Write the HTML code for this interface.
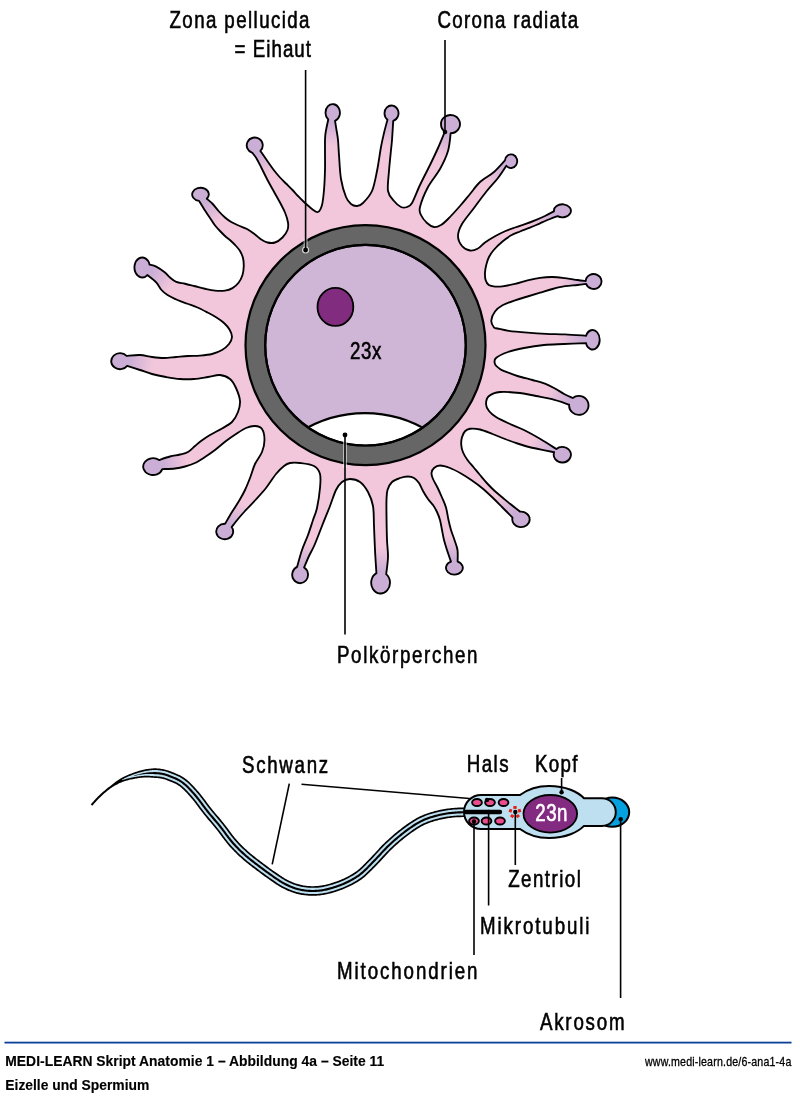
<!DOCTYPE html>
<html><head><meta charset="utf-8"><style>
html,body{margin:0;padding:0;background:#fff;}
body{width:800px;height:1096px;overflow:hidden;}
svg{display:block;will-change:transform;}
text{font-family:"Liberation Sans",sans-serif;}
</style></head><body>
<svg width="800" height="1096" viewBox="0 0 800 1096">
<defs>
<radialGradient id="g0" gradientUnits="userSpaceOnUse" cx="332.7" cy="112.7" r="33.6"><stop offset="0.29" stop-color="#cbaed6" stop-opacity="1"/><stop offset="1" stop-color="#cbaed6" stop-opacity="0"/></radialGradient>
<radialGradient id="g1" gradientUnits="userSpaceOnUse" cx="391.5" cy="113.3" r="32.8"><stop offset="0.27" stop-color="#cbaed6" stop-opacity="1"/><stop offset="1" stop-color="#cbaed6" stop-opacity="0"/></radialGradient>
<radialGradient id="g2" gradientUnits="userSpaceOnUse" cx="450.5" cy="124.1" r="34.5"><stop offset="0.3" stop-color="#cbaed6" stop-opacity="1"/><stop offset="1" stop-color="#cbaed6" stop-opacity="0"/></radialGradient>
<radialGradient id="g3" gradientUnits="userSpaceOnUse" cx="511" cy="161.2" r="31.85"><stop offset="0.25" stop-color="#cbaed6" stop-opacity="1"/><stop offset="1" stop-color="#cbaed6" stop-opacity="0"/></radialGradient>
<radialGradient id="g4" gradientUnits="userSpaceOnUse" cx="562.4" cy="210.8" r="33.5"><stop offset="0.28" stop-color="#cbaed6" stop-opacity="1"/><stop offset="1" stop-color="#cbaed6" stop-opacity="0"/></radialGradient>
<radialGradient id="g5" gradientUnits="userSpaceOnUse" cx="593.6" cy="281.5" r="32.9"><stop offset="0.27" stop-color="#cbaed6" stop-opacity="1"/><stop offset="1" stop-color="#cbaed6" stop-opacity="0"/></radialGradient>
<radialGradient id="g6" gradientUnits="userSpaceOnUse" cx="592.6" cy="339.75" r="34.75"><stop offset="0.31" stop-color="#cbaed6" stop-opacity="1"/><stop offset="1" stop-color="#cbaed6" stop-opacity="0"/></radialGradient>
<radialGradient id="g7" gradientUnits="userSpaceOnUse" cx="578.8" cy="405.4" r="34.7"><stop offset="0.31" stop-color="#cbaed6" stop-opacity="1"/><stop offset="1" stop-color="#cbaed6" stop-opacity="0"/></radialGradient>
<radialGradient id="g8" gradientUnits="userSpaceOnUse" cx="562.3" cy="454.7" r="33.6"><stop offset="0.29" stop-color="#cbaed6" stop-opacity="1"/><stop offset="1" stop-color="#cbaed6" stop-opacity="0"/></radialGradient>
<radialGradient id="g9" gradientUnits="userSpaceOnUse" cx="521" cy="519.4" r="33.7"><stop offset="0.29" stop-color="#cbaed6" stop-opacity="1"/><stop offset="1" stop-color="#cbaed6" stop-opacity="0"/></radialGradient>
<radialGradient id="g10" gradientUnits="userSpaceOnUse" cx="454.4" cy="567.8" r="33.4"><stop offset="0.28" stop-color="#cbaed6" stop-opacity="1"/><stop offset="1" stop-color="#cbaed6" stop-opacity="0"/></radialGradient>
<radialGradient id="g11" gradientUnits="userSpaceOnUse" cx="380.6" cy="582.75" r="35.75"><stop offset="0.33" stop-color="#cbaed6" stop-opacity="1"/><stop offset="1" stop-color="#cbaed6" stop-opacity="0"/></radialGradient>
<radialGradient id="g12" gradientUnits="userSpaceOnUse" cx="300.1" cy="574.75" r="33.45"><stop offset="0.28" stop-color="#cbaed6" stop-opacity="1"/><stop offset="1" stop-color="#cbaed6" stop-opacity="0"/></radialGradient>
<radialGradient id="g13" gradientUnits="userSpaceOnUse" cx="224.7" cy="531.5" r="33.45"><stop offset="0.28" stop-color="#cbaed6" stop-opacity="1"/><stop offset="1" stop-color="#cbaed6" stop-opacity="0"/></radialGradient>
<radialGradient id="g14" gradientUnits="userSpaceOnUse" cx="153" cy="466.6" r="34.8"><stop offset="0.31" stop-color="#cbaed6" stop-opacity="1"/><stop offset="1" stop-color="#cbaed6" stop-opacity="0"/></radialGradient>
<radialGradient id="g15" gradientUnits="userSpaceOnUse" cx="120" cy="361.2" r="33.8"><stop offset="0.29" stop-color="#cbaed6" stop-opacity="1"/><stop offset="1" stop-color="#cbaed6" stop-opacity="0"/></radialGradient>
<radialGradient id="g16" gradientUnits="userSpaceOnUse" cx="142.2" cy="267.5" r="35"><stop offset="0.31" stop-color="#cbaed6" stop-opacity="1"/><stop offset="1" stop-color="#cbaed6" stop-opacity="0"/></radialGradient>
<radialGradient id="g17" gradientUnits="userSpaceOnUse" cx="200.5" cy="194.4" r="33.3"><stop offset="0.28" stop-color="#cbaed6" stop-opacity="1"/><stop offset="1" stop-color="#cbaed6" stop-opacity="0"/></radialGradient>
<radialGradient id="g18" gradientUnits="userSpaceOnUse" cx="254.75" cy="145.35" r="33"><stop offset="0.27" stop-color="#cbaed6" stop-opacity="1"/><stop offset="1" stop-color="#cbaed6" stop-opacity="0"/></radialGradient>
<clipPath id="bodyclip"><path d="M335.03 120.84 C335.27 122.37 336 126.81 336.5 130 C337 133.19 337.58 135.83 338 140 C338.42 144.17 338.5 148.5 339 155 C339.5 161.5 339.83 172 341 179 C342.17 186 344.33 192.83 346 197 C347.67 201.17 349.17 202.5 351 204 C352.83 205.5 355 206.17 357 206 C359 205.83 360.5 205.5 363 203 C365.5 200.5 369.67 196.33 372 191 C374.33 185.67 375.5 178.33 377 171 C378.5 163.67 379.83 153.33 381 147 C382.17 140.67 382.92 137.55 384 133 C385.08 128.45 386.89 121.9 387.47 119.68 A7 7.8 0 1 1 393.24 120.86 C393.03 124.05 392.37 135.14 392 140 C391.63 144.86 391.5 144.83 391 150 C390.5 155.17 389.5 164.17 389 171 C388.5 177.83 387.17 186 388 191 C388.83 196 391.83 198.33 394 201 C396.17 203.67 398.83 206 401 207 C403.17 208 405.17 207.67 407 207 C408.83 206.33 409.83 206.67 412 203 C414.17 199.33 417 191.33 420 185 C423 178.67 427 171.17 430 165 C433 158.83 435.51 153.59 438 148 C440.49 142.41 443.77 134.22 444.92 131.47 A9.5 9.1 0 1 1 450.68 133.2 C450.23 136.17 449.78 145.03 448 151 C446.22 156.97 443.33 163 440 169 C436.67 175 431.33 180.67 428 187 C424.67 193.33 421.17 202.33 420 207 C418.83 211.67 419.83 212.33 421 215 C422.17 217.67 424.83 221 427 223 C429.17 225 431.67 226.67 434 227 C436.33 227.33 438.67 226.33 441 225 C443.33 223.67 444.83 222.17 448 219 C451.17 215.83 456.33 210.17 460 206 C463.67 201.83 466.67 198 470 194 C473.33 190 476 185.67 480 182 C484 178.33 489.86 175.55 494 172 C498.14 168.45 503.01 162.58 504.82 160.7 A6.2 6.85 0 1 1 506.36 165.75 C504.97 167.79 501.39 173.62 498 178 C494.61 182.38 490 187 486 192 C482 197 478 202.67 474 208 C470 213.33 464.67 219.33 462 224 C459.33 228.67 458 232.33 458 236 C458 239.67 460 243.58 462 246 C464 248.42 467.42 250.04 470 250.5 C472.58 250.96 475 250.08 477.5 248.75 C480 247.42 482.08 244.58 485 242.5 C487.92 240.42 491.67 238.12 495 236.25 C498.33 234.38 501.67 232.71 505 231.25 C508.33 229.79 511.67 228.68 515 227.5 C518.33 226.32 521.67 225.38 525 224.2 C528.33 223.02 531.67 221.77 535 220.4 C538.33 219.03 541.84 217.51 545 216 C548.16 214.49 552.44 212.13 553.93 211.35 A8.5 6.5 0 1 1 557.54 216.13 C556.28 216.61 552.92 217.81 550 219 C547.08 220.19 543.33 221.85 540 223.3 C536.67 224.75 533.33 226.33 530 227.7 C526.67 229.07 523.12 230.23 520 231.5 C516.88 232.77 514.17 233.63 511.25 235.3 C508.33 236.97 505.42 239.05 502.5 241.5 C499.58 243.95 496.04 247.33 493.75 250 C491.46 252.67 490 255 488.75 257.5 C487.5 260 486.88 262.5 486.25 265 C485.62 267.5 485.11 270 485 272.5 C484.89 275 484.98 277.92 485.6 280 C486.23 282.08 487.18 283.9 488.75 285 C490.32 286.1 492.71 286.38 495 286.6 C497.29 286.82 499.17 286.75 502.5 286.3 C505.83 285.85 510.83 284.9 515 283.9 C519.17 282.9 523.33 281.32 527.5 280.3 C531.67 279.28 535.83 278.35 540 277.8 C544.17 277.25 548.33 276.93 552.5 277 C556.67 277.07 560.83 277.7 565 278.2 C569.17 278.7 574.05 279.53 577.5 280 C580.95 280.47 584.35 280.86 585.72 281.03 A7.9 7.45 0 1 1 586.09 283.82 C584.66 284.01 581.02 284.6 577.5 285 C573.98 285.4 569.17 285.53 565 286.2 C560.83 286.87 556.67 287.92 552.5 289 C548.33 290.08 544.17 291.45 540 292.7 C535.83 293.95 531.67 295.23 527.5 296.5 C523.33 297.77 519.17 298.83 515 300.3 C510.83 301.77 505.83 303.43 502.5 305.3 C499.17 307.17 496.87 308.97 495 311.5 C493.13 314.03 491.47 317.83 491.3 320.5 C491.13 323.17 492.97 326.17 494 327.5 C495.03 328.83 495.04 327.95 497.5 328.5 C499.96 329.05 503.75 330.12 508.75 330.8 C513.75 331.48 521.25 332.1 527.5 332.6 C533.75 333.1 540 333.5 546.25 333.8 C552.5 334.1 558.35 334.08 565 334.4 C571.65 334.72 582.61 335.49 586.14 335.71 A7.1 9.75 0 1 1 585.92 343.05 C582.27 343.21 570.99 343.67 564 344 C557.01 344.33 550.67 344.33 544 345 C537.33 345.67 530 346.83 524 348 C518 349.17 512.67 350.33 508 352 C503.33 353.67 498.17 356 496 358 C493.83 360 494.33 362.17 495 364 C495.67 365.83 498.33 367.78 500 369 C501.67 370.22 502.08 370.13 505 371.3 C507.92 372.47 512.92 374.55 517.5 376 C522.08 377.45 527.92 378.72 532.5 380 C537.08 381.28 541.25 382.28 545 383.7 C548.75 385.12 551.67 386.7 555 388.5 C558.33 390.3 562.05 392.92 565 394.5 C567.95 396.08 571.43 397.42 572.71 398 A9.7 9.5 0 1 1 569.13 404.65 C566.28 403.74 557.52 400.64 552 399.2 C546.48 397.76 541.33 397.03 536 396 C530.67 394.97 526 393.67 520 393 C514 392.33 505.17 391.5 500 392 C494.83 392.5 491.33 394 489 396 C486.67 398 486 401.5 486 404 C486 406.5 487.33 408.83 489 411 C490.67 413.17 492.5 414.83 496 417 C499.5 419.17 505.33 421.83 510 424 C514.67 426.17 519 427.53 524 430 C529 432.47 534.6 435.63 540 438.8 C545.4 441.97 553.65 447.33 556.38 449.04 A8.6 7.8 0 1 1 554.15 452.22 C551.79 451.73 544.19 450.17 540 449.3 C535.81 448.43 532.75 447.97 529 447 C525.25 446.03 521.5 444.83 517.5 443.5 C513.5 442.17 509.17 440.58 505 439 C500.83 437.42 496.67 435.58 492.5 434 C488.33 432.42 483.75 430.38 480 429.5 C476.25 428.62 472.5 428.46 470 428.75 C467.5 429.04 466.35 429.79 465 431.25 C463.65 432.71 462.52 435.21 461.9 437.5 C461.27 439.79 461.05 442.5 461.25 445 C461.45 447.5 462.06 450 463.1 452.5 C464.14 455 465.73 457.5 467.5 460 C469.27 462.5 471.67 465 473.75 467.5 C475.83 470 477.71 472.29 480 475 C482.29 477.71 485 481.04 487.5 483.75 C490 486.46 492.5 488.96 495 491.25 C497.5 493.54 500 495.42 502.5 497.5 C505 499.58 507.06 501.39 510 503.75 C512.94 506.11 518.44 510.37 520.13 511.69 A8.7 7.75 0 1 1 512.53 517.61 C510.86 515.93 505.84 510.85 502.5 507.5 C499.16 504.15 495.92 500.75 492.5 497.5 C489.08 494.25 485.42 490.83 482 488 C478.58 485.17 475.5 482.92 472 480.5 C468.5 478.08 464.67 475.58 461 473.5 C457.33 471.42 453.5 469.33 450 468 C446.5 466.67 442.67 465.5 440 465.5 C437.33 465.5 435.42 466.75 434 468 C432.58 469.25 431.67 471.17 431.5 473 C431.33 474.83 432 476.58 433 479 C434 481.42 436 484.42 437.5 487.5 C439 490.58 440.58 494.17 442 497.5 C443.42 500.83 444.92 503.75 446 507.5 C447.08 511.25 447.67 516.25 448.5 520 C449.33 523.75 450 526.67 451 530 C452 533.33 453.42 536.67 454.5 540 C455.58 543.33 456.98 546.41 457.5 550 C458.02 553.59 457.6 559.6 457.62 561.52 A8.4 6.8 0 1 1 450.95 561.6 C450.29 559.67 448.16 553.6 447 550 C445.84 546.4 444.83 543.33 444 540 C443.17 536.67 442.67 533.33 442 530 C441.33 526.67 440.83 523 440 520 C439.17 517 438.17 514.5 437 512 C435.83 509.5 434.5 507.17 433 505 C431.5 502.83 429.67 501.33 428 499 C426.33 496.67 424.5 493.67 423 491 C421.5 488.33 420.5 485.17 419 483 C417.5 480.83 415.83 479.08 414 478 C412.17 476.92 410.33 476.5 408 476.5 C405.67 476.5 402.67 477.08 400 478 C397.33 478.92 394.08 480 392 482 C389.92 484 388.42 487 387.5 490 C386.58 493 386.67 495.67 386.5 500 C386.33 504.33 386.42 509.33 386.5 516 C386.58 522.67 386.75 533.17 387 540 C387.25 546.83 388.13 551.32 388 557 C387.87 562.68 386.49 571.26 386.19 574.11 A9.4 10.75 0 1 1 376.42 573.12 C376.18 569.27 375.4 557.85 375 550 C374.6 542.15 374.33 533.33 374 526 C373.67 518.67 374 511.67 373 506 C372 500.33 370.17 496 368 492 C365.83 488 363 484.17 360 482 C357 479.83 353 479 350 479 C347 479 344.33 480.17 342 482 C339.67 483.83 338 486 336 490 C334 494 332.33 500 330 506 C327.67 512 324.58 519.5 322 526 C319.42 532.5 316.67 540 314.5 545 C312.33 550 310.73 552.26 309 556 C307.27 559.74 304.92 565.55 304.1 567.46 A7.9 8.45 0 1 1 297.07 566.95 C297.89 564.12 300.18 555.32 302 550 C303.82 544.68 306.17 540 308 535 C309.83 530 311.5 524.5 313 520 C314.5 515.5 315.83 513.33 317 508 C318.17 502.67 319.5 493.67 320 488 C320.5 482.33 321 477.67 320 474 C319 470.33 317.33 467.83 314 466 C310.67 464.17 304 463.5 300 463 C296 462.5 292.67 462.5 290 463 C287.33 463.5 286.33 464.17 284 466 C281.67 467.83 279 470.33 276 474 C273 477.67 269.43 483.67 266 488 C262.57 492.33 258.9 496.17 255.4 500 C251.9 503.83 247.9 507.83 245 511 C242.1 514.17 240.23 516.33 238 519 C235.77 521.67 232.68 525.71 231.62 527.05 A8.45 7.75 0 1 1 225.08 523.76 C226.24 521.8 229.58 515.96 232 512 C234.42 508.04 237.43 503.67 239.6 500 C241.77 496.33 243.27 493.67 245 490 C246.73 486.33 248.33 482.33 250 478 C251.67 473.67 253 468.33 255 464 C257 459.67 260.42 456 262 452 C263.58 448 264.5 443.83 264.5 440 C264.5 436.17 263.58 431.33 262 429 C260.42 426.67 257.67 426.17 255 426 C252.33 425.83 249.17 426.67 246 428 C242.83 429.33 239.33 431.83 236 434 C232.67 436.17 229.5 438.33 226 441 C222.5 443.67 218.5 447.33 215 450 C211.5 452.67 208.33 454.83 205 457 C201.67 459.17 198.33 461.42 195 463 C191.67 464.58 188.33 465.58 185 466.5 C181.67 467.42 178.78 468.06 175 468.5 C171.22 468.94 164.45 469.03 162.34 469.14 A9.8 8.4 0 1 1 159.09 460.02 C160.91 459.43 166.52 457.42 170 456.5 C173.48 455.58 177 455.25 180 454.5 C183 453.75 185.5 453.42 188 452 C190.5 450.58 192.83 447.83 195 446 C197.17 444.17 198.5 442.83 201 441 C203.5 439.17 206.5 437.08 210 435 C213.5 432.92 218.33 430.67 222 428.5 C225.67 426.33 229.33 424.75 232 422 C234.67 419.25 236.67 415.5 238 412 C239.33 408.5 240.33 405 240 401 C239.67 397 237.67 391.67 236 388 C234.33 384.33 232.67 381.17 230 379 C227.33 376.83 223.67 375.33 220 375 C216.33 374.67 212.33 376.33 208 377 C203.67 377.67 198.67 378.67 194 379 C189.33 379.33 184.67 379.33 180 379 C175.33 378.67 170.67 377.83 166 377 C161.33 376.17 156.33 375.17 152 374 C147.67 372.83 144.14 371.36 140 370 C135.86 368.64 129.32 366.52 127.18 365.83 A8.8 8 0 1 1 126.61 355.91 C128.84 355.76 135.77 354.82 140 355 C144.23 355.18 148 356.5 152 357 C156 357.5 160 358 164 358 C168 358 172 357.33 176 357 C180 356.67 184 356.23 188 356 C192 355.77 196 355.93 200 355.6 C204 355.27 208.33 354.93 212 354 C215.67 353.07 219.17 351.67 222 350 C224.83 348.33 227.33 346.17 229 344 C230.67 341.83 231.92 339.42 232 337 C232.08 334.58 230.83 331.83 229.5 329.5 C228.17 327.17 226.17 325 224 323 C221.83 321 219.25 319.25 216.5 317.5 C213.75 315.75 210.67 314.17 207.5 312.5 C204.33 310.83 200.83 308.96 197.5 307.5 C194.17 306.04 190.83 305 187.5 303.75 C184.17 302.5 180.83 301.46 177.5 300 C174.17 298.54 170.17 296.67 167.5 295 C164.83 293.33 163.38 292.1 161.5 290 C159.62 287.9 158.57 284.9 156.2 282.4 C153.83 279.9 148.79 276.25 147.3 275.03 A7.75 10 0 1 1 149.63 264.67 C150.73 264.99 153.64 265.3 156.2 266.6 C158.76 267.9 162.7 270.68 165 272.5 C167.3 274.32 168.12 275.93 170 277.5 C171.88 279.07 173.75 280.86 176.25 281.9 C178.75 282.94 181.88 283.02 185 283.75 C188.12 284.48 191.67 285.42 195 286.25 C198.33 287.08 201.67 288.02 205 288.75 C208.33 289.48 211.67 290.29 215 290.6 C218.33 290.91 222.08 291.02 225 290.6 C227.92 290.18 230.21 289.45 232.5 288.1 C234.79 286.75 237.08 284.68 238.75 282.5 C240.42 280.32 241.67 277.71 242.5 275 C243.33 272.29 243.67 269.08 243.75 266.25 C243.83 263.42 243.62 260.54 243 258 C242.38 255.46 241.17 253 240 251 C238.83 249 237.5 247.67 236 246 C234.5 244.33 232.75 242.58 231 241 C229.25 239.42 227.33 238.17 225.5 236.5 C223.67 234.83 221.67 232.75 220 231 C218.33 229.25 216.83 227.67 215.5 226 C214.17 224.33 213.25 222.83 212 221 C210.75 219.17 209.33 217 208 215 C206.67 213 205.48 211.35 204 209 C202.52 206.65 199.92 202.26 199.11 200.91 A8.3 6.6 0 1 1 206.79 198.71 C207.74 199.55 210.51 201.66 212.5 203.75 C214.49 205.84 216.67 208.96 218.75 211.25 C220.83 213.54 222.92 215.71 225 217.5 C227.08 219.29 229 220.67 231.25 222 C233.5 223.33 235.88 224.33 238.5 225.5 C241.12 226.67 244.25 227.5 247 229 C249.75 230.5 252.62 232.75 255 234.5 C257.38 236.25 259.17 238.17 261.25 239.5 C263.33 240.83 265.21 242 267.5 242.5 C269.79 243 272.5 243.33 275 242.5 C277.5 241.67 280.42 239.58 282.5 237.5 C284.58 235.42 286.58 232.5 287.5 230 C288.42 227.5 288.42 225.42 288 222.5 C287.58 219.58 286.33 215.83 285 212.5 C283.67 209.17 281.88 206.04 280 202.5 C278.12 198.96 275.83 195 273.75 191.25 C271.67 187.5 269.58 183.96 267.5 180 C265.42 176.04 263.12 171.17 261.25 167.5 C259.38 163.83 257.74 160.44 256.25 158 C254.76 155.56 252.99 153.7 252.34 152.84 A8 7.85 0 1 1 260.4 150.91 C261.58 152.63 265.27 158.07 267.5 161.25 C269.73 164.43 271.67 167.29 273.75 170 C275.83 172.71 277.92 175.21 280 177.5 C282.08 179.79 284.17 181.67 286.25 183.75 C288.33 185.83 290.54 187.96 292.5 190 C294.46 192.04 296.08 194 298 196 C299.92 198 301.67 199.83 304 202 C306.33 204.17 309.67 207.33 312 209 C314.33 210.67 316.33 212.67 318 212 C319.67 211.33 321 208.67 322 205 C323 201.33 323.5 195.83 324 190 C324.5 184.17 324.83 176.67 325 170 C325.17 163.33 324.95 155.83 325 150 C325.05 144.17 324.76 140.09 325.3 135 C325.84 129.91 327.77 122.06 328.26 119.47 A7.2 8.6 0 1 1 335.03 120.84 Z"/></clipPath>
</defs>
<path d="M335.03 120.84 C335.27 122.37 336 126.81 336.5 130 C337 133.19 337.58 135.83 338 140 C338.42 144.17 338.5 148.5 339 155 C339.5 161.5 339.83 172 341 179 C342.17 186 344.33 192.83 346 197 C347.67 201.17 349.17 202.5 351 204 C352.83 205.5 355 206.17 357 206 C359 205.83 360.5 205.5 363 203 C365.5 200.5 369.67 196.33 372 191 C374.33 185.67 375.5 178.33 377 171 C378.5 163.67 379.83 153.33 381 147 C382.17 140.67 382.92 137.55 384 133 C385.08 128.45 386.89 121.9 387.47 119.68 A7 7.8 0 1 1 393.24 120.86 C393.03 124.05 392.37 135.14 392 140 C391.63 144.86 391.5 144.83 391 150 C390.5 155.17 389.5 164.17 389 171 C388.5 177.83 387.17 186 388 191 C388.83 196 391.83 198.33 394 201 C396.17 203.67 398.83 206 401 207 C403.17 208 405.17 207.67 407 207 C408.83 206.33 409.83 206.67 412 203 C414.17 199.33 417 191.33 420 185 C423 178.67 427 171.17 430 165 C433 158.83 435.51 153.59 438 148 C440.49 142.41 443.77 134.22 444.92 131.47 A9.5 9.1 0 1 1 450.68 133.2 C450.23 136.17 449.78 145.03 448 151 C446.22 156.97 443.33 163 440 169 C436.67 175 431.33 180.67 428 187 C424.67 193.33 421.17 202.33 420 207 C418.83 211.67 419.83 212.33 421 215 C422.17 217.67 424.83 221 427 223 C429.17 225 431.67 226.67 434 227 C436.33 227.33 438.67 226.33 441 225 C443.33 223.67 444.83 222.17 448 219 C451.17 215.83 456.33 210.17 460 206 C463.67 201.83 466.67 198 470 194 C473.33 190 476 185.67 480 182 C484 178.33 489.86 175.55 494 172 C498.14 168.45 503.01 162.58 504.82 160.7 A6.2 6.85 0 1 1 506.36 165.75 C504.97 167.79 501.39 173.62 498 178 C494.61 182.38 490 187 486 192 C482 197 478 202.67 474 208 C470 213.33 464.67 219.33 462 224 C459.33 228.67 458 232.33 458 236 C458 239.67 460 243.58 462 246 C464 248.42 467.42 250.04 470 250.5 C472.58 250.96 475 250.08 477.5 248.75 C480 247.42 482.08 244.58 485 242.5 C487.92 240.42 491.67 238.12 495 236.25 C498.33 234.38 501.67 232.71 505 231.25 C508.33 229.79 511.67 228.68 515 227.5 C518.33 226.32 521.67 225.38 525 224.2 C528.33 223.02 531.67 221.77 535 220.4 C538.33 219.03 541.84 217.51 545 216 C548.16 214.49 552.44 212.13 553.93 211.35 A8.5 6.5 0 1 1 557.54 216.13 C556.28 216.61 552.92 217.81 550 219 C547.08 220.19 543.33 221.85 540 223.3 C536.67 224.75 533.33 226.33 530 227.7 C526.67 229.07 523.12 230.23 520 231.5 C516.88 232.77 514.17 233.63 511.25 235.3 C508.33 236.97 505.42 239.05 502.5 241.5 C499.58 243.95 496.04 247.33 493.75 250 C491.46 252.67 490 255 488.75 257.5 C487.5 260 486.88 262.5 486.25 265 C485.62 267.5 485.11 270 485 272.5 C484.89 275 484.98 277.92 485.6 280 C486.23 282.08 487.18 283.9 488.75 285 C490.32 286.1 492.71 286.38 495 286.6 C497.29 286.82 499.17 286.75 502.5 286.3 C505.83 285.85 510.83 284.9 515 283.9 C519.17 282.9 523.33 281.32 527.5 280.3 C531.67 279.28 535.83 278.35 540 277.8 C544.17 277.25 548.33 276.93 552.5 277 C556.67 277.07 560.83 277.7 565 278.2 C569.17 278.7 574.05 279.53 577.5 280 C580.95 280.47 584.35 280.86 585.72 281.03 A7.9 7.45 0 1 1 586.09 283.82 C584.66 284.01 581.02 284.6 577.5 285 C573.98 285.4 569.17 285.53 565 286.2 C560.83 286.87 556.67 287.92 552.5 289 C548.33 290.08 544.17 291.45 540 292.7 C535.83 293.95 531.67 295.23 527.5 296.5 C523.33 297.77 519.17 298.83 515 300.3 C510.83 301.77 505.83 303.43 502.5 305.3 C499.17 307.17 496.87 308.97 495 311.5 C493.13 314.03 491.47 317.83 491.3 320.5 C491.13 323.17 492.97 326.17 494 327.5 C495.03 328.83 495.04 327.95 497.5 328.5 C499.96 329.05 503.75 330.12 508.75 330.8 C513.75 331.48 521.25 332.1 527.5 332.6 C533.75 333.1 540 333.5 546.25 333.8 C552.5 334.1 558.35 334.08 565 334.4 C571.65 334.72 582.61 335.49 586.14 335.71 A7.1 9.75 0 1 1 585.92 343.05 C582.27 343.21 570.99 343.67 564 344 C557.01 344.33 550.67 344.33 544 345 C537.33 345.67 530 346.83 524 348 C518 349.17 512.67 350.33 508 352 C503.33 353.67 498.17 356 496 358 C493.83 360 494.33 362.17 495 364 C495.67 365.83 498.33 367.78 500 369 C501.67 370.22 502.08 370.13 505 371.3 C507.92 372.47 512.92 374.55 517.5 376 C522.08 377.45 527.92 378.72 532.5 380 C537.08 381.28 541.25 382.28 545 383.7 C548.75 385.12 551.67 386.7 555 388.5 C558.33 390.3 562.05 392.92 565 394.5 C567.95 396.08 571.43 397.42 572.71 398 A9.7 9.5 0 1 1 569.13 404.65 C566.28 403.74 557.52 400.64 552 399.2 C546.48 397.76 541.33 397.03 536 396 C530.67 394.97 526 393.67 520 393 C514 392.33 505.17 391.5 500 392 C494.83 392.5 491.33 394 489 396 C486.67 398 486 401.5 486 404 C486 406.5 487.33 408.83 489 411 C490.67 413.17 492.5 414.83 496 417 C499.5 419.17 505.33 421.83 510 424 C514.67 426.17 519 427.53 524 430 C529 432.47 534.6 435.63 540 438.8 C545.4 441.97 553.65 447.33 556.38 449.04 A8.6 7.8 0 1 1 554.15 452.22 C551.79 451.73 544.19 450.17 540 449.3 C535.81 448.43 532.75 447.97 529 447 C525.25 446.03 521.5 444.83 517.5 443.5 C513.5 442.17 509.17 440.58 505 439 C500.83 437.42 496.67 435.58 492.5 434 C488.33 432.42 483.75 430.38 480 429.5 C476.25 428.62 472.5 428.46 470 428.75 C467.5 429.04 466.35 429.79 465 431.25 C463.65 432.71 462.52 435.21 461.9 437.5 C461.27 439.79 461.05 442.5 461.25 445 C461.45 447.5 462.06 450 463.1 452.5 C464.14 455 465.73 457.5 467.5 460 C469.27 462.5 471.67 465 473.75 467.5 C475.83 470 477.71 472.29 480 475 C482.29 477.71 485 481.04 487.5 483.75 C490 486.46 492.5 488.96 495 491.25 C497.5 493.54 500 495.42 502.5 497.5 C505 499.58 507.06 501.39 510 503.75 C512.94 506.11 518.44 510.37 520.13 511.69 A8.7 7.75 0 1 1 512.53 517.61 C510.86 515.93 505.84 510.85 502.5 507.5 C499.16 504.15 495.92 500.75 492.5 497.5 C489.08 494.25 485.42 490.83 482 488 C478.58 485.17 475.5 482.92 472 480.5 C468.5 478.08 464.67 475.58 461 473.5 C457.33 471.42 453.5 469.33 450 468 C446.5 466.67 442.67 465.5 440 465.5 C437.33 465.5 435.42 466.75 434 468 C432.58 469.25 431.67 471.17 431.5 473 C431.33 474.83 432 476.58 433 479 C434 481.42 436 484.42 437.5 487.5 C439 490.58 440.58 494.17 442 497.5 C443.42 500.83 444.92 503.75 446 507.5 C447.08 511.25 447.67 516.25 448.5 520 C449.33 523.75 450 526.67 451 530 C452 533.33 453.42 536.67 454.5 540 C455.58 543.33 456.98 546.41 457.5 550 C458.02 553.59 457.6 559.6 457.62 561.52 A8.4 6.8 0 1 1 450.95 561.6 C450.29 559.67 448.16 553.6 447 550 C445.84 546.4 444.83 543.33 444 540 C443.17 536.67 442.67 533.33 442 530 C441.33 526.67 440.83 523 440 520 C439.17 517 438.17 514.5 437 512 C435.83 509.5 434.5 507.17 433 505 C431.5 502.83 429.67 501.33 428 499 C426.33 496.67 424.5 493.67 423 491 C421.5 488.33 420.5 485.17 419 483 C417.5 480.83 415.83 479.08 414 478 C412.17 476.92 410.33 476.5 408 476.5 C405.67 476.5 402.67 477.08 400 478 C397.33 478.92 394.08 480 392 482 C389.92 484 388.42 487 387.5 490 C386.58 493 386.67 495.67 386.5 500 C386.33 504.33 386.42 509.33 386.5 516 C386.58 522.67 386.75 533.17 387 540 C387.25 546.83 388.13 551.32 388 557 C387.87 562.68 386.49 571.26 386.19 574.11 A9.4 10.75 0 1 1 376.42 573.12 C376.18 569.27 375.4 557.85 375 550 C374.6 542.15 374.33 533.33 374 526 C373.67 518.67 374 511.67 373 506 C372 500.33 370.17 496 368 492 C365.83 488 363 484.17 360 482 C357 479.83 353 479 350 479 C347 479 344.33 480.17 342 482 C339.67 483.83 338 486 336 490 C334 494 332.33 500 330 506 C327.67 512 324.58 519.5 322 526 C319.42 532.5 316.67 540 314.5 545 C312.33 550 310.73 552.26 309 556 C307.27 559.74 304.92 565.55 304.1 567.46 A7.9 8.45 0 1 1 297.07 566.95 C297.89 564.12 300.18 555.32 302 550 C303.82 544.68 306.17 540 308 535 C309.83 530 311.5 524.5 313 520 C314.5 515.5 315.83 513.33 317 508 C318.17 502.67 319.5 493.67 320 488 C320.5 482.33 321 477.67 320 474 C319 470.33 317.33 467.83 314 466 C310.67 464.17 304 463.5 300 463 C296 462.5 292.67 462.5 290 463 C287.33 463.5 286.33 464.17 284 466 C281.67 467.83 279 470.33 276 474 C273 477.67 269.43 483.67 266 488 C262.57 492.33 258.9 496.17 255.4 500 C251.9 503.83 247.9 507.83 245 511 C242.1 514.17 240.23 516.33 238 519 C235.77 521.67 232.68 525.71 231.62 527.05 A8.45 7.75 0 1 1 225.08 523.76 C226.24 521.8 229.58 515.96 232 512 C234.42 508.04 237.43 503.67 239.6 500 C241.77 496.33 243.27 493.67 245 490 C246.73 486.33 248.33 482.33 250 478 C251.67 473.67 253 468.33 255 464 C257 459.67 260.42 456 262 452 C263.58 448 264.5 443.83 264.5 440 C264.5 436.17 263.58 431.33 262 429 C260.42 426.67 257.67 426.17 255 426 C252.33 425.83 249.17 426.67 246 428 C242.83 429.33 239.33 431.83 236 434 C232.67 436.17 229.5 438.33 226 441 C222.5 443.67 218.5 447.33 215 450 C211.5 452.67 208.33 454.83 205 457 C201.67 459.17 198.33 461.42 195 463 C191.67 464.58 188.33 465.58 185 466.5 C181.67 467.42 178.78 468.06 175 468.5 C171.22 468.94 164.45 469.03 162.34 469.14 A9.8 8.4 0 1 1 159.09 460.02 C160.91 459.43 166.52 457.42 170 456.5 C173.48 455.58 177 455.25 180 454.5 C183 453.75 185.5 453.42 188 452 C190.5 450.58 192.83 447.83 195 446 C197.17 444.17 198.5 442.83 201 441 C203.5 439.17 206.5 437.08 210 435 C213.5 432.92 218.33 430.67 222 428.5 C225.67 426.33 229.33 424.75 232 422 C234.67 419.25 236.67 415.5 238 412 C239.33 408.5 240.33 405 240 401 C239.67 397 237.67 391.67 236 388 C234.33 384.33 232.67 381.17 230 379 C227.33 376.83 223.67 375.33 220 375 C216.33 374.67 212.33 376.33 208 377 C203.67 377.67 198.67 378.67 194 379 C189.33 379.33 184.67 379.33 180 379 C175.33 378.67 170.67 377.83 166 377 C161.33 376.17 156.33 375.17 152 374 C147.67 372.83 144.14 371.36 140 370 C135.86 368.64 129.32 366.52 127.18 365.83 A8.8 8 0 1 1 126.61 355.91 C128.84 355.76 135.77 354.82 140 355 C144.23 355.18 148 356.5 152 357 C156 357.5 160 358 164 358 C168 358 172 357.33 176 357 C180 356.67 184 356.23 188 356 C192 355.77 196 355.93 200 355.6 C204 355.27 208.33 354.93 212 354 C215.67 353.07 219.17 351.67 222 350 C224.83 348.33 227.33 346.17 229 344 C230.67 341.83 231.92 339.42 232 337 C232.08 334.58 230.83 331.83 229.5 329.5 C228.17 327.17 226.17 325 224 323 C221.83 321 219.25 319.25 216.5 317.5 C213.75 315.75 210.67 314.17 207.5 312.5 C204.33 310.83 200.83 308.96 197.5 307.5 C194.17 306.04 190.83 305 187.5 303.75 C184.17 302.5 180.83 301.46 177.5 300 C174.17 298.54 170.17 296.67 167.5 295 C164.83 293.33 163.38 292.1 161.5 290 C159.62 287.9 158.57 284.9 156.2 282.4 C153.83 279.9 148.79 276.25 147.3 275.03 A7.75 10 0 1 1 149.63 264.67 C150.73 264.99 153.64 265.3 156.2 266.6 C158.76 267.9 162.7 270.68 165 272.5 C167.3 274.32 168.12 275.93 170 277.5 C171.88 279.07 173.75 280.86 176.25 281.9 C178.75 282.94 181.88 283.02 185 283.75 C188.12 284.48 191.67 285.42 195 286.25 C198.33 287.08 201.67 288.02 205 288.75 C208.33 289.48 211.67 290.29 215 290.6 C218.33 290.91 222.08 291.02 225 290.6 C227.92 290.18 230.21 289.45 232.5 288.1 C234.79 286.75 237.08 284.68 238.75 282.5 C240.42 280.32 241.67 277.71 242.5 275 C243.33 272.29 243.67 269.08 243.75 266.25 C243.83 263.42 243.62 260.54 243 258 C242.38 255.46 241.17 253 240 251 C238.83 249 237.5 247.67 236 246 C234.5 244.33 232.75 242.58 231 241 C229.25 239.42 227.33 238.17 225.5 236.5 C223.67 234.83 221.67 232.75 220 231 C218.33 229.25 216.83 227.67 215.5 226 C214.17 224.33 213.25 222.83 212 221 C210.75 219.17 209.33 217 208 215 C206.67 213 205.48 211.35 204 209 C202.52 206.65 199.92 202.26 199.11 200.91 A8.3 6.6 0 1 1 206.79 198.71 C207.74 199.55 210.51 201.66 212.5 203.75 C214.49 205.84 216.67 208.96 218.75 211.25 C220.83 213.54 222.92 215.71 225 217.5 C227.08 219.29 229 220.67 231.25 222 C233.5 223.33 235.88 224.33 238.5 225.5 C241.12 226.67 244.25 227.5 247 229 C249.75 230.5 252.62 232.75 255 234.5 C257.38 236.25 259.17 238.17 261.25 239.5 C263.33 240.83 265.21 242 267.5 242.5 C269.79 243 272.5 243.33 275 242.5 C277.5 241.67 280.42 239.58 282.5 237.5 C284.58 235.42 286.58 232.5 287.5 230 C288.42 227.5 288.42 225.42 288 222.5 C287.58 219.58 286.33 215.83 285 212.5 C283.67 209.17 281.88 206.04 280 202.5 C278.12 198.96 275.83 195 273.75 191.25 C271.67 187.5 269.58 183.96 267.5 180 C265.42 176.04 263.12 171.17 261.25 167.5 C259.38 163.83 257.74 160.44 256.25 158 C254.76 155.56 252.99 153.7 252.34 152.84 A8 7.85 0 1 1 260.4 150.91 C261.58 152.63 265.27 158.07 267.5 161.25 C269.73 164.43 271.67 167.29 273.75 170 C275.83 172.71 277.92 175.21 280 177.5 C282.08 179.79 284.17 181.67 286.25 183.75 C288.33 185.83 290.54 187.96 292.5 190 C294.46 192.04 296.08 194 298 196 C299.92 198 301.67 199.83 304 202 C306.33 204.17 309.67 207.33 312 209 C314.33 210.67 316.33 212.67 318 212 C319.67 211.33 321 208.67 322 205 C323 201.33 323.5 195.83 324 190 C324.5 184.17 324.83 176.67 325 170 C325.17 163.33 324.95 155.83 325 150 C325.05 144.17 324.76 140.09 325.3 135 C325.84 129.91 327.77 122.06 328.26 119.47 A7.2 8.6 0 1 1 335.03 120.84 Z" fill="#f2c7db"/>
<g clip-path="url(#bodyclip)">
<circle cx="332.7" cy="112.7" r="33.6" fill="url(#g0)"/>
<circle cx="391.5" cy="113.3" r="32.8" fill="url(#g1)"/>
<circle cx="450.5" cy="124.1" r="34.5" fill="url(#g2)"/>
<circle cx="511" cy="161.2" r="31.85" fill="url(#g3)"/>
<circle cx="562.4" cy="210.8" r="33.5" fill="url(#g4)"/>
<circle cx="593.6" cy="281.5" r="32.9" fill="url(#g5)"/>
<circle cx="592.6" cy="339.75" r="34.75" fill="url(#g6)"/>
<circle cx="578.8" cy="405.4" r="34.7" fill="url(#g7)"/>
<circle cx="562.3" cy="454.7" r="33.6" fill="url(#g8)"/>
<circle cx="521" cy="519.4" r="33.7" fill="url(#g9)"/>
<circle cx="454.4" cy="567.8" r="33.4" fill="url(#g10)"/>
<circle cx="380.6" cy="582.75" r="35.75" fill="url(#g11)"/>
<circle cx="300.1" cy="574.75" r="33.45" fill="url(#g12)"/>
<circle cx="224.7" cy="531.5" r="33.45" fill="url(#g13)"/>
<circle cx="153" cy="466.6" r="34.8" fill="url(#g14)"/>
<circle cx="120" cy="361.2" r="33.8" fill="url(#g15)"/>
<circle cx="142.2" cy="267.5" r="35" fill="url(#g16)"/>
<circle cx="200.5" cy="194.4" r="33.3" fill="url(#g17)"/>
<circle cx="254.75" cy="145.35" r="33" fill="url(#g18)"/>
</g>
<path d="M335.03 120.84 C335.27 122.37 336 126.81 336.5 130 C337 133.19 337.58 135.83 338 140 C338.42 144.17 338.5 148.5 339 155 C339.5 161.5 339.83 172 341 179 C342.17 186 344.33 192.83 346 197 C347.67 201.17 349.17 202.5 351 204 C352.83 205.5 355 206.17 357 206 C359 205.83 360.5 205.5 363 203 C365.5 200.5 369.67 196.33 372 191 C374.33 185.67 375.5 178.33 377 171 C378.5 163.67 379.83 153.33 381 147 C382.17 140.67 382.92 137.55 384 133 C385.08 128.45 386.89 121.9 387.47 119.68 A7 7.8 0 1 1 393.24 120.86 C393.03 124.05 392.37 135.14 392 140 C391.63 144.86 391.5 144.83 391 150 C390.5 155.17 389.5 164.17 389 171 C388.5 177.83 387.17 186 388 191 C388.83 196 391.83 198.33 394 201 C396.17 203.67 398.83 206 401 207 C403.17 208 405.17 207.67 407 207 C408.83 206.33 409.83 206.67 412 203 C414.17 199.33 417 191.33 420 185 C423 178.67 427 171.17 430 165 C433 158.83 435.51 153.59 438 148 C440.49 142.41 443.77 134.22 444.92 131.47 A9.5 9.1 0 1 1 450.68 133.2 C450.23 136.17 449.78 145.03 448 151 C446.22 156.97 443.33 163 440 169 C436.67 175 431.33 180.67 428 187 C424.67 193.33 421.17 202.33 420 207 C418.83 211.67 419.83 212.33 421 215 C422.17 217.67 424.83 221 427 223 C429.17 225 431.67 226.67 434 227 C436.33 227.33 438.67 226.33 441 225 C443.33 223.67 444.83 222.17 448 219 C451.17 215.83 456.33 210.17 460 206 C463.67 201.83 466.67 198 470 194 C473.33 190 476 185.67 480 182 C484 178.33 489.86 175.55 494 172 C498.14 168.45 503.01 162.58 504.82 160.7 A6.2 6.85 0 1 1 506.36 165.75 C504.97 167.79 501.39 173.62 498 178 C494.61 182.38 490 187 486 192 C482 197 478 202.67 474 208 C470 213.33 464.67 219.33 462 224 C459.33 228.67 458 232.33 458 236 C458 239.67 460 243.58 462 246 C464 248.42 467.42 250.04 470 250.5 C472.58 250.96 475 250.08 477.5 248.75 C480 247.42 482.08 244.58 485 242.5 C487.92 240.42 491.67 238.12 495 236.25 C498.33 234.38 501.67 232.71 505 231.25 C508.33 229.79 511.67 228.68 515 227.5 C518.33 226.32 521.67 225.38 525 224.2 C528.33 223.02 531.67 221.77 535 220.4 C538.33 219.03 541.84 217.51 545 216 C548.16 214.49 552.44 212.13 553.93 211.35 A8.5 6.5 0 1 1 557.54 216.13 C556.28 216.61 552.92 217.81 550 219 C547.08 220.19 543.33 221.85 540 223.3 C536.67 224.75 533.33 226.33 530 227.7 C526.67 229.07 523.12 230.23 520 231.5 C516.88 232.77 514.17 233.63 511.25 235.3 C508.33 236.97 505.42 239.05 502.5 241.5 C499.58 243.95 496.04 247.33 493.75 250 C491.46 252.67 490 255 488.75 257.5 C487.5 260 486.88 262.5 486.25 265 C485.62 267.5 485.11 270 485 272.5 C484.89 275 484.98 277.92 485.6 280 C486.23 282.08 487.18 283.9 488.75 285 C490.32 286.1 492.71 286.38 495 286.6 C497.29 286.82 499.17 286.75 502.5 286.3 C505.83 285.85 510.83 284.9 515 283.9 C519.17 282.9 523.33 281.32 527.5 280.3 C531.67 279.28 535.83 278.35 540 277.8 C544.17 277.25 548.33 276.93 552.5 277 C556.67 277.07 560.83 277.7 565 278.2 C569.17 278.7 574.05 279.53 577.5 280 C580.95 280.47 584.35 280.86 585.72 281.03 A7.9 7.45 0 1 1 586.09 283.82 C584.66 284.01 581.02 284.6 577.5 285 C573.98 285.4 569.17 285.53 565 286.2 C560.83 286.87 556.67 287.92 552.5 289 C548.33 290.08 544.17 291.45 540 292.7 C535.83 293.95 531.67 295.23 527.5 296.5 C523.33 297.77 519.17 298.83 515 300.3 C510.83 301.77 505.83 303.43 502.5 305.3 C499.17 307.17 496.87 308.97 495 311.5 C493.13 314.03 491.47 317.83 491.3 320.5 C491.13 323.17 492.97 326.17 494 327.5 C495.03 328.83 495.04 327.95 497.5 328.5 C499.96 329.05 503.75 330.12 508.75 330.8 C513.75 331.48 521.25 332.1 527.5 332.6 C533.75 333.1 540 333.5 546.25 333.8 C552.5 334.1 558.35 334.08 565 334.4 C571.65 334.72 582.61 335.49 586.14 335.71 A7.1 9.75 0 1 1 585.92 343.05 C582.27 343.21 570.99 343.67 564 344 C557.01 344.33 550.67 344.33 544 345 C537.33 345.67 530 346.83 524 348 C518 349.17 512.67 350.33 508 352 C503.33 353.67 498.17 356 496 358 C493.83 360 494.33 362.17 495 364 C495.67 365.83 498.33 367.78 500 369 C501.67 370.22 502.08 370.13 505 371.3 C507.92 372.47 512.92 374.55 517.5 376 C522.08 377.45 527.92 378.72 532.5 380 C537.08 381.28 541.25 382.28 545 383.7 C548.75 385.12 551.67 386.7 555 388.5 C558.33 390.3 562.05 392.92 565 394.5 C567.95 396.08 571.43 397.42 572.71 398 A9.7 9.5 0 1 1 569.13 404.65 C566.28 403.74 557.52 400.64 552 399.2 C546.48 397.76 541.33 397.03 536 396 C530.67 394.97 526 393.67 520 393 C514 392.33 505.17 391.5 500 392 C494.83 392.5 491.33 394 489 396 C486.67 398 486 401.5 486 404 C486 406.5 487.33 408.83 489 411 C490.67 413.17 492.5 414.83 496 417 C499.5 419.17 505.33 421.83 510 424 C514.67 426.17 519 427.53 524 430 C529 432.47 534.6 435.63 540 438.8 C545.4 441.97 553.65 447.33 556.38 449.04 A8.6 7.8 0 1 1 554.15 452.22 C551.79 451.73 544.19 450.17 540 449.3 C535.81 448.43 532.75 447.97 529 447 C525.25 446.03 521.5 444.83 517.5 443.5 C513.5 442.17 509.17 440.58 505 439 C500.83 437.42 496.67 435.58 492.5 434 C488.33 432.42 483.75 430.38 480 429.5 C476.25 428.62 472.5 428.46 470 428.75 C467.5 429.04 466.35 429.79 465 431.25 C463.65 432.71 462.52 435.21 461.9 437.5 C461.27 439.79 461.05 442.5 461.25 445 C461.45 447.5 462.06 450 463.1 452.5 C464.14 455 465.73 457.5 467.5 460 C469.27 462.5 471.67 465 473.75 467.5 C475.83 470 477.71 472.29 480 475 C482.29 477.71 485 481.04 487.5 483.75 C490 486.46 492.5 488.96 495 491.25 C497.5 493.54 500 495.42 502.5 497.5 C505 499.58 507.06 501.39 510 503.75 C512.94 506.11 518.44 510.37 520.13 511.69 A8.7 7.75 0 1 1 512.53 517.61 C510.86 515.93 505.84 510.85 502.5 507.5 C499.16 504.15 495.92 500.75 492.5 497.5 C489.08 494.25 485.42 490.83 482 488 C478.58 485.17 475.5 482.92 472 480.5 C468.5 478.08 464.67 475.58 461 473.5 C457.33 471.42 453.5 469.33 450 468 C446.5 466.67 442.67 465.5 440 465.5 C437.33 465.5 435.42 466.75 434 468 C432.58 469.25 431.67 471.17 431.5 473 C431.33 474.83 432 476.58 433 479 C434 481.42 436 484.42 437.5 487.5 C439 490.58 440.58 494.17 442 497.5 C443.42 500.83 444.92 503.75 446 507.5 C447.08 511.25 447.67 516.25 448.5 520 C449.33 523.75 450 526.67 451 530 C452 533.33 453.42 536.67 454.5 540 C455.58 543.33 456.98 546.41 457.5 550 C458.02 553.59 457.6 559.6 457.62 561.52 A8.4 6.8 0 1 1 450.95 561.6 C450.29 559.67 448.16 553.6 447 550 C445.84 546.4 444.83 543.33 444 540 C443.17 536.67 442.67 533.33 442 530 C441.33 526.67 440.83 523 440 520 C439.17 517 438.17 514.5 437 512 C435.83 509.5 434.5 507.17 433 505 C431.5 502.83 429.67 501.33 428 499 C426.33 496.67 424.5 493.67 423 491 C421.5 488.33 420.5 485.17 419 483 C417.5 480.83 415.83 479.08 414 478 C412.17 476.92 410.33 476.5 408 476.5 C405.67 476.5 402.67 477.08 400 478 C397.33 478.92 394.08 480 392 482 C389.92 484 388.42 487 387.5 490 C386.58 493 386.67 495.67 386.5 500 C386.33 504.33 386.42 509.33 386.5 516 C386.58 522.67 386.75 533.17 387 540 C387.25 546.83 388.13 551.32 388 557 C387.87 562.68 386.49 571.26 386.19 574.11 A9.4 10.75 0 1 1 376.42 573.12 C376.18 569.27 375.4 557.85 375 550 C374.6 542.15 374.33 533.33 374 526 C373.67 518.67 374 511.67 373 506 C372 500.33 370.17 496 368 492 C365.83 488 363 484.17 360 482 C357 479.83 353 479 350 479 C347 479 344.33 480.17 342 482 C339.67 483.83 338 486 336 490 C334 494 332.33 500 330 506 C327.67 512 324.58 519.5 322 526 C319.42 532.5 316.67 540 314.5 545 C312.33 550 310.73 552.26 309 556 C307.27 559.74 304.92 565.55 304.1 567.46 A7.9 8.45 0 1 1 297.07 566.95 C297.89 564.12 300.18 555.32 302 550 C303.82 544.68 306.17 540 308 535 C309.83 530 311.5 524.5 313 520 C314.5 515.5 315.83 513.33 317 508 C318.17 502.67 319.5 493.67 320 488 C320.5 482.33 321 477.67 320 474 C319 470.33 317.33 467.83 314 466 C310.67 464.17 304 463.5 300 463 C296 462.5 292.67 462.5 290 463 C287.33 463.5 286.33 464.17 284 466 C281.67 467.83 279 470.33 276 474 C273 477.67 269.43 483.67 266 488 C262.57 492.33 258.9 496.17 255.4 500 C251.9 503.83 247.9 507.83 245 511 C242.1 514.17 240.23 516.33 238 519 C235.77 521.67 232.68 525.71 231.62 527.05 A8.45 7.75 0 1 1 225.08 523.76 C226.24 521.8 229.58 515.96 232 512 C234.42 508.04 237.43 503.67 239.6 500 C241.77 496.33 243.27 493.67 245 490 C246.73 486.33 248.33 482.33 250 478 C251.67 473.67 253 468.33 255 464 C257 459.67 260.42 456 262 452 C263.58 448 264.5 443.83 264.5 440 C264.5 436.17 263.58 431.33 262 429 C260.42 426.67 257.67 426.17 255 426 C252.33 425.83 249.17 426.67 246 428 C242.83 429.33 239.33 431.83 236 434 C232.67 436.17 229.5 438.33 226 441 C222.5 443.67 218.5 447.33 215 450 C211.5 452.67 208.33 454.83 205 457 C201.67 459.17 198.33 461.42 195 463 C191.67 464.58 188.33 465.58 185 466.5 C181.67 467.42 178.78 468.06 175 468.5 C171.22 468.94 164.45 469.03 162.34 469.14 A9.8 8.4 0 1 1 159.09 460.02 C160.91 459.43 166.52 457.42 170 456.5 C173.48 455.58 177 455.25 180 454.5 C183 453.75 185.5 453.42 188 452 C190.5 450.58 192.83 447.83 195 446 C197.17 444.17 198.5 442.83 201 441 C203.5 439.17 206.5 437.08 210 435 C213.5 432.92 218.33 430.67 222 428.5 C225.67 426.33 229.33 424.75 232 422 C234.67 419.25 236.67 415.5 238 412 C239.33 408.5 240.33 405 240 401 C239.67 397 237.67 391.67 236 388 C234.33 384.33 232.67 381.17 230 379 C227.33 376.83 223.67 375.33 220 375 C216.33 374.67 212.33 376.33 208 377 C203.67 377.67 198.67 378.67 194 379 C189.33 379.33 184.67 379.33 180 379 C175.33 378.67 170.67 377.83 166 377 C161.33 376.17 156.33 375.17 152 374 C147.67 372.83 144.14 371.36 140 370 C135.86 368.64 129.32 366.52 127.18 365.83 A8.8 8 0 1 1 126.61 355.91 C128.84 355.76 135.77 354.82 140 355 C144.23 355.18 148 356.5 152 357 C156 357.5 160 358 164 358 C168 358 172 357.33 176 357 C180 356.67 184 356.23 188 356 C192 355.77 196 355.93 200 355.6 C204 355.27 208.33 354.93 212 354 C215.67 353.07 219.17 351.67 222 350 C224.83 348.33 227.33 346.17 229 344 C230.67 341.83 231.92 339.42 232 337 C232.08 334.58 230.83 331.83 229.5 329.5 C228.17 327.17 226.17 325 224 323 C221.83 321 219.25 319.25 216.5 317.5 C213.75 315.75 210.67 314.17 207.5 312.5 C204.33 310.83 200.83 308.96 197.5 307.5 C194.17 306.04 190.83 305 187.5 303.75 C184.17 302.5 180.83 301.46 177.5 300 C174.17 298.54 170.17 296.67 167.5 295 C164.83 293.33 163.38 292.1 161.5 290 C159.62 287.9 158.57 284.9 156.2 282.4 C153.83 279.9 148.79 276.25 147.3 275.03 A7.75 10 0 1 1 149.63 264.67 C150.73 264.99 153.64 265.3 156.2 266.6 C158.76 267.9 162.7 270.68 165 272.5 C167.3 274.32 168.12 275.93 170 277.5 C171.88 279.07 173.75 280.86 176.25 281.9 C178.75 282.94 181.88 283.02 185 283.75 C188.12 284.48 191.67 285.42 195 286.25 C198.33 287.08 201.67 288.02 205 288.75 C208.33 289.48 211.67 290.29 215 290.6 C218.33 290.91 222.08 291.02 225 290.6 C227.92 290.18 230.21 289.45 232.5 288.1 C234.79 286.75 237.08 284.68 238.75 282.5 C240.42 280.32 241.67 277.71 242.5 275 C243.33 272.29 243.67 269.08 243.75 266.25 C243.83 263.42 243.62 260.54 243 258 C242.38 255.46 241.17 253 240 251 C238.83 249 237.5 247.67 236 246 C234.5 244.33 232.75 242.58 231 241 C229.25 239.42 227.33 238.17 225.5 236.5 C223.67 234.83 221.67 232.75 220 231 C218.33 229.25 216.83 227.67 215.5 226 C214.17 224.33 213.25 222.83 212 221 C210.75 219.17 209.33 217 208 215 C206.67 213 205.48 211.35 204 209 C202.52 206.65 199.92 202.26 199.11 200.91 A8.3 6.6 0 1 1 206.79 198.71 C207.74 199.55 210.51 201.66 212.5 203.75 C214.49 205.84 216.67 208.96 218.75 211.25 C220.83 213.54 222.92 215.71 225 217.5 C227.08 219.29 229 220.67 231.25 222 C233.5 223.33 235.88 224.33 238.5 225.5 C241.12 226.67 244.25 227.5 247 229 C249.75 230.5 252.62 232.75 255 234.5 C257.38 236.25 259.17 238.17 261.25 239.5 C263.33 240.83 265.21 242 267.5 242.5 C269.79 243 272.5 243.33 275 242.5 C277.5 241.67 280.42 239.58 282.5 237.5 C284.58 235.42 286.58 232.5 287.5 230 C288.42 227.5 288.42 225.42 288 222.5 C287.58 219.58 286.33 215.83 285 212.5 C283.67 209.17 281.88 206.04 280 202.5 C278.12 198.96 275.83 195 273.75 191.25 C271.67 187.5 269.58 183.96 267.5 180 C265.42 176.04 263.12 171.17 261.25 167.5 C259.38 163.83 257.74 160.44 256.25 158 C254.76 155.56 252.99 153.7 252.34 152.84 A8 7.85 0 1 1 260.4 150.91 C261.58 152.63 265.27 158.07 267.5 161.25 C269.73 164.43 271.67 167.29 273.75 170 C275.83 172.71 277.92 175.21 280 177.5 C282.08 179.79 284.17 181.67 286.25 183.75 C288.33 185.83 290.54 187.96 292.5 190 C294.46 192.04 296.08 194 298 196 C299.92 198 301.67 199.83 304 202 C306.33 204.17 309.67 207.33 312 209 C314.33 210.67 316.33 212.67 318 212 C319.67 211.33 321 208.67 322 205 C323 201.33 323.5 195.83 324 190 C324.5 184.17 324.83 176.67 325 170 C325.17 163.33 324.95 155.83 325 150 C325.05 144.17 324.76 140.09 325.3 135 C325.84 129.91 327.77 122.06 328.26 119.47 A7.2 8.6 0 1 1 335.03 120.84 Z" fill="none" stroke="#000" stroke-width="1.85" stroke-linejoin="round"/>
<circle cx="365.5" cy="345.2" r="110.5" fill="none" stroke="#666666" stroke-width="19"/>
<circle cx="365.5" cy="345.2" r="120" fill="none" stroke="#000" stroke-width="2.2"/>
<circle cx="365.5" cy="345.2" r="100.3" fill="#cfb6d7" stroke="#000" stroke-width="2.2"/>
<clipPath id="inner"><circle cx="365.5" cy="345.2" r="99.2"/></clipPath>
<path clip-path="url(#inner)" d="M300 432 A121 121 0 0 1 430 432 L430 465 L300 465 Z" fill="#fff" stroke="#000" stroke-width="2.2"/>
<circle cx="365.5" cy="345.2" r="100.3" fill="none" stroke="#000" stroke-width="2.2"/>
<ellipse cx="335.4" cy="306.9" rx="17.9" ry="19" fill="#822c80" stroke="#000" stroke-width="1.8"/>
<g stroke="#fff" stroke-opacity="0.55" stroke-width="4" fill="none"><line x1="305.6" y1="239" x2="305.6" y2="250"/><line x1="345" y1="437" x2="345" y2="468"/></g>
<circle cx="305.6" cy="250" r="3.6" fill="#fff" fill-opacity="0.7"/>
<g stroke="#000" stroke-width="1.6" fill="none">
<line x1="305.6" y1="70" x2="305.6" y2="250"/>
<line x1="445" y1="40" x2="445" y2="132"/>
<line x1="345" y1="435" x2="345" y2="634.5"/>
</g>
<circle cx="305.6" cy="250" r="2.4" fill="#000"/>
<circle cx="445" cy="132" r="2.3" fill="#000"/>
<circle cx="345" cy="435" r="2.4" fill="#000"/>
<text transform="translate(169.5 27.5) scale(0.8 1)" font-size="23.4" font-weight="normal" fill="#000" stroke="#000" stroke-width="0.6" textLength="175" lengthAdjust="spacing">Zona pellucida</text>
<text transform="translate(234.5 57.3) scale(0.8 1)" font-size="23.4" font-weight="normal" fill="#000" stroke="#000" stroke-width="0.6" textLength="95.62" lengthAdjust="spacing">= Eihaut</text>
<text transform="translate(437.5 28.1) scale(0.8 1)" font-size="23.4" font-weight="normal" fill="#000" stroke="#000" stroke-width="0.6" textLength="175.87" lengthAdjust="spacing">Corona radiata</text>
<text transform="translate(350.1 358.9) scale(0.8 1)" font-size="23.4" font-weight="normal" fill="#000" stroke="#000" stroke-width="0.6" textLength="39" lengthAdjust="spacing">23x</text>
<text transform="translate(337 663) scale(0.8 1)" font-size="23.4" font-weight="normal" fill="#000" stroke="#000" stroke-width="0.6" textLength="175.62" lengthAdjust="spacing">Polkörperchen</text>
<text transform="translate(242 772.7) scale(0.8 1)" font-size="23.4" font-weight="normal" fill="#000" stroke="#000" stroke-width="0.6" textLength="107.75" lengthAdjust="spacing">Schwanz</text>
<text transform="translate(466.8 771.8) scale(0.8 1)" font-size="23.4" font-weight="normal" fill="#000" stroke="#000" stroke-width="0.6" textLength="52.25" lengthAdjust="spacing">Hals</text>
<text transform="translate(535 771.8) scale(0.8 1)" font-size="23.4" font-weight="normal" fill="#000" stroke="#000" stroke-width="0.6" textLength="53.12" lengthAdjust="spacing">Kopf</text>
<text transform="translate(508.2 886.8) scale(0.8 1)" font-size="23.4" font-weight="normal" fill="#000" stroke="#000" stroke-width="0.6" textLength="90.75" lengthAdjust="spacing">Zentriol</text>
<text transform="translate(480 934) scale(0.8 1)" font-size="23.4" font-weight="normal" fill="#000" stroke="#000" stroke-width="0.6" textLength="136.88" lengthAdjust="spacing">Mikrotubuli</text>
<text transform="translate(337 979) scale(0.8 1)" font-size="23.4" font-weight="normal" fill="#000" stroke="#000" stroke-width="0.6" textLength="175.62" lengthAdjust="spacing">Mitochondrien</text>
<text transform="translate(539.9 1029.9) scale(0.8 1)" font-size="23.4" font-weight="normal" fill="#000" stroke="#000" stroke-width="0.6" textLength="105.88" lengthAdjust="spacing">Akrosom</text>
<path d="M92.23 805.68 L92.64 805.24 L93.15 804.69 L93.73 804.04 L94.39 803.32 L95.1 802.54 L95.86 801.71 L96.65 800.85 L97.47 799.98 L98.29 799.12 L99.11 798.28 L99.91 797.47 L100.69 796.72 L101.46 796 L102.24 795.28 L103.02 794.56 L103.82 793.84 L104.62 793.12 L105.43 792.41 L106.26 791.71 L107.1 791.01 L107.95 790.32 L108.81 789.64 L109.69 788.97 L110.59 788.31 L111.51 787.64 L112.45 786.97 L113.45 786.38 L114.48 785.8 L115.52 785.23 L116.56 784.67 L117.61 784.13 L118.67 783.61 L119.72 783.11 L120.77 782.64 L121.82 782.2 L122.86 781.8 L123.91 781.42 L124.97 781.07 L126.04 780.74 L127.13 780.43 L128.22 780.14 L129.32 779.87 L130.42 779.62 L131.51 779.38 L132.61 779.16 L133.69 778.95 L134.76 778.75 L135.82 778.56 L136.84 778.38 L137.85 778.22 L138.83 778.07 L139.79 777.94 L140.74 777.83 L141.68 777.73 L142.62 777.65 L143.55 777.58 L144.48 777.53 L145.42 777.5 L146.37 777.49 L147.34 777.49 L148.33 777.51 L149.35 777.54 L150.39 777.6 L151.45 777.67 L152.51 777.75 L153.56 777.85 L154.61 777.91 L155.63 777.95 L156.63 778 L157.6 778.07 L158.51 778.16 L159.39 778.26 L160.21 778.38 L160.97 778.5 L161.69 778.64 L162.37 778.79 L163.04 778.95 L163.7 779.14 L164.36 779.34 L165.05 779.56 L165.77 779.82 L166.53 780.1 L167.34 780.41 L168.23 780.76 L169.19 781.14 L170.18 781.53 L171.17 781.92 L172.15 782.32 L173.13 782.73 L174.1 783.16 L175.06 783.61 L176.01 784.09 L176.94 784.6 L177.86 785.14 L178.75 785.72 L179.63 786.35 L180.53 787.05 L181.46 787.82 L182.4 788.65 L183.36 789.54 L184.33 790.48 L185.31 791.47 L186.31 792.51 L187.31 793.58 L188.31 794.68 L189.33 795.82 L190.35 796.97 L191.36 798.13 L192.35 799.3 L193.34 800.51 L194.34 801.77 L195.35 803.09 L196.37 804.44 L197.39 805.83 L198.43 807.23 L199.48 808.65 L200.53 810.06 L201.6 811.48 L202.67 812.87 L203.75 814.24 L204.82 815.57 L205.88 816.87 L206.94 818.14 L208 819.39 L209.05 820.63 L210.09 821.86 L211.13 823.08 L212.17 824.3 L213.19 825.52 L214.22 826.75 L215.24 827.99 L216.25 829.24 L217.25 830.52 L218.26 831.83 L219.28 833.19 L220.31 834.57 L221.35 835.98 L222.39 837.39 L223.45 838.81 L224.51 840.22 L225.59 841.62 L226.67 842.99 L227.77 844.34 L228.87 845.64 L229.96 846.88 L231.05 848.08 L232.13 849.24 L233.22 850.37 L234.3 851.48 L235.38 852.56 L236.45 853.61 L237.53 854.64 L238.6 855.65 L239.66 856.64 L240.73 857.61 L241.8 858.57 L242.87 859.53 L243.94 860.45 L244.99 861.34 L246.04 862.2 L247.09 863.04 L248.13 863.87 L249.17 864.68 L250.23 865.49 L251.29 866.31 L252.37 867.13 L253.46 867.96 L254.59 868.82 L255.77 869.71 L256.99 870.64 L258.25 871.59 L259.54 872.55 L260.84 873.52 L262.15 874.49 L263.47 875.45 L264.78 876.41 L266.07 877.34 L267.34 878.24 L268.57 879.12 L269.76 879.94 L270.9 880.73 L272 881.49 L273.08 882.24 L274.15 882.97 L275.22 883.69 L276.27 884.39 L277.33 885.07 L278.4 885.75 L279.47 886.4 L280.56 887.04 L281.66 887.66 L282.78 888.25 L283.89 888.82 L285 889.37 L286.11 889.89 L287.23 890.4 L288.35 890.88 L289.46 891.34 L290.58 891.77 L291.71 892.19 L292.83 892.58 L293.96 892.95 L295.09 893.3 L296.23 893.63 L297.37 893.93 L298.51 894.2 L299.65 894.45 L300.79 894.68 L301.92 894.88 L303.05 895.06 L304.18 895.21 L305.3 895.34 L306.43 895.46 L307.54 895.56 L308.66 895.63 L309.77 895.69 L310.9 895.74 L312.02 895.76 L313.15 895.77 L314.28 895.75 L315.4 895.72 L316.52 895.66 L317.65 895.59 L318.77 895.5 L319.89 895.38 L321.01 895.26 L322.12 895.11 L323.25 894.94 L324.38 894.75 L325.51 894.54 L326.63 894.31 L327.75 894.06 L328.86 893.79 L329.97 893.51 L331.07 893.21 L332.17 892.9 L333.26 892.58 L334.34 892.25 L335.42 891.91 L336.5 891.56 L337.57 891.2 L338.65 890.84 L339.73 890.46 L340.82 890.07 L341.91 889.66 L343.01 889.24 L344.11 888.8 L345.21 888.34 L346.31 887.86 L347.42 887.36 L348.53 886.84 L349.63 886.3 L350.71 885.76 L351.78 885.21 L352.86 884.65 L353.95 884.07 L355.05 883.46 L356.16 882.83 L357.28 882.17 L358.4 881.47 L359.53 880.74 L360.67 879.97 L361.8 879.15 L362.94 878.29 L364.07 877.39 L365.17 876.47 L366.24 875.53 L367.29 874.57 L368.34 873.59 L369.38 872.58 L370.42 871.55 L371.47 870.49 L372.53 869.41 L373.62 868.3 L374.75 867.16 L375.93 865.96 L377.18 864.68 L378.48 863.3 L379.82 861.88 L381.17 860.42 L382.54 858.92 L383.92 857.42 L385.31 855.92 L386.69 854.44 L388.07 852.98 L389.43 851.58 L390.76 850.24 L392.07 848.97 L393.38 847.73 L394.7 846.51 L396.02 845.31 L397.34 844.14 L398.66 842.98 L399.98 841.85 L401.3 840.75 L402.62 839.66 L403.93 838.6 L405.25 837.56 L406.57 836.54 L407.89 835.54 L409.21 834.54 L410.54 833.57 L411.86 832.61 L413.18 831.68 L414.48 830.77 L415.78 829.89 L417.08 829.04 L418.36 828.23 L419.64 827.46 L420.9 826.73 L422.16 826.04 L423.4 825.39 L424.64 824.79 L425.88 824.23 L427.13 823.7 L428.38 823.21 L429.64 822.74 L430.91 822.31 L432.18 821.89 L433.47 821.49 L434.76 821.11 L436.06 820.75 L437.38 820.39 L438.69 820.05 L439.98 819.73 L441.24 819.43 L442.5 819.16 L443.75 818.91 L445.01 818.68 L446.27 818.46 L447.54 818.26 L448.83 818.08 L450.13 817.91 L451.46 817.76 L452.81 817.61 L454.17 817.48 L455.59 817.37 L457.13 817.28 L458.78 817.21 L460.49 817.15 L462.23 817.11 L463.96 817.08 L465.64 817.06 L467.23 817.05 L468.71 817.04 L470.03 817.03 L471.18 817.02 L472.09 817 L471.91 807.4 L471.04 807.42 L469.95 807.43 L468.64 807.44 L467.16 807.45 L465.54 807.46 L463.82 807.48 L462.04 807.51 L460.23 807.55 L458.42 807.61 L456.64 807.69 L454.93 807.79 L453.33 807.92 L451.84 808.06 L450.39 808.22 L448.96 808.39 L447.54 808.57 L446.13 808.77 L444.73 808.99 L443.33 809.22 L441.93 809.48 L440.53 809.76 L439.13 810.07 L437.72 810.4 L436.31 810.75 L434.91 811.12 L433.52 811.49 L432.11 811.89 L430.7 812.3 L429.28 812.74 L427.84 813.21 L426.4 813.71 L424.95 814.24 L423.5 814.82 L422.04 815.43 L420.57 816.1 L419.1 816.81 L417.64 817.57 L416.18 818.37 L414.74 819.2 L413.31 820.07 L411.88 820.97 L410.47 821.9 L409.06 822.85 L407.66 823.82 L406.26 824.81 L404.88 825.82 L403.49 826.83 L402.11 827.86 L400.73 828.92 L399.33 830 L397.94 831.1 L396.55 832.22 L395.16 833.37 L393.77 834.53 L392.38 835.72 L390.99 836.94 L389.6 838.17 L388.22 839.43 L386.83 840.72 L385.43 842.03 L384.01 843.41 L382.57 844.86 L381.13 846.35 L379.7 847.86 L378.27 849.39 L376.86 850.92 L375.47 852.43 L374.11 853.91 L372.78 855.35 L371.5 856.72 L370.27 858.02 L369.07 859.24 L367.91 860.42 L366.78 861.57 L365.69 862.68 L364.64 863.74 L363.64 864.75 L362.66 865.72 L361.7 866.65 L360.76 867.53 L359.84 868.38 L358.91 869.19 L357.99 869.96 L357.06 870.71 L356.11 871.42 L355.17 872.1 L354.22 872.75 L353.26 873.36 L352.3 873.96 L351.34 874.53 L350.36 875.09 L349.38 875.63 L348.39 876.16 L347.39 876.68 L346.37 877.19 L345.37 877.7 L344.38 878.18 L343.41 878.64 L342.44 879.08 L341.46 879.5 L340.48 879.91 L339.49 880.3 L338.51 880.68 L337.51 881.05 L336.52 881.41 L335.52 881.76 L334.51 882.1 L333.5 882.44 L332.5 882.77 L331.49 883.08 L330.49 883.39 L329.5 883.68 L328.51 883.96 L327.53 884.23 L326.55 884.48 L325.58 884.71 L324.62 884.92 L323.66 885.12 L322.71 885.3 L321.75 885.46 L320.79 885.6 L319.83 885.73 L318.86 885.84 L317.9 885.93 L316.94 886.01 L315.98 886.08 L315.02 886.12 L314.06 886.15 L313.1 886.17 L312.14 886.16 L311.19 886.14 L310.23 886.11 L309.26 886.05 L308.29 885.98 L307.32 885.9 L306.36 885.8 L305.4 885.69 L304.45 885.56 L303.5 885.41 L302.55 885.24 L301.6 885.05 L300.66 884.85 L299.72 884.62 L298.77 884.37 L297.83 884.1 L296.87 883.81 L295.92 883.49 L294.96 883.16 L294 882.8 L293.04 882.43 L292.07 882.03 L291.1 881.61 L290.14 881.17 L289.16 880.72 L288.19 880.24 L287.22 879.75 L286.27 879.24 L285.33 878.71 L284.4 878.16 L283.46 877.59 L282.5 876.99 L281.54 876.36 L280.56 875.71 L279.55 875.03 L278.52 874.32 L277.46 873.59 L276.36 872.83 L275.24 872.06 L274.08 871.25 L272.89 870.41 L271.67 869.54 L270.41 868.63 L269.13 867.7 L267.85 866.76 L266.56 865.81 L265.28 864.86 L264.01 863.91 L262.78 862.98 L261.57 862.07 L260.41 861.18 L259.28 860.32 L258.18 859.48 L257.11 858.67 L256.07 857.88 L255.05 857.09 L254.06 856.32 L253.08 855.54 L252.1 854.76 L251.14 853.96 L250.17 853.15 L249.2 852.31 L248.2 851.43 L247.19 850.51 L246.17 849.57 L245.15 848.63 L244.14 847.68 L243.13 846.71 L242.12 845.73 L241.12 844.72 L240.12 843.7 L239.12 842.65 L238.12 841.58 L237.12 840.48 L236.13 839.36 L235.15 838.2 L234.16 836.99 L233.16 835.73 L232.15 834.41 L231.13 833.06 L230.11 831.67 L229.07 830.27 L228.02 828.85 L226.97 827.44 L225.9 826.02 L224.83 824.63 L223.75 823.26 L222.68 821.93 L221.62 820.63 L220.56 819.36 L219.5 818.11 L218.45 816.87 L217.41 815.64 L216.37 814.42 L215.33 813.2 L214.31 811.98 L213.28 810.75 L212.26 809.51 L211.25 808.26 L210.25 806.98 L209.24 805.67 L208.22 804.31 L207.19 802.93 L206.15 801.52 L205.11 800.11 L204.05 798.69 L202.99 797.28 L201.91 795.88 L200.83 794.51 L199.73 793.16 L198.64 791.87 L197.57 790.64 L196.5 789.44 L195.44 788.24 L194.36 787.07 L193.28 785.91 L192.19 784.77 L191.08 783.66 L189.97 782.58 L188.85 781.54 L187.71 780.53 L186.55 779.57 L185.37 778.65 L184.15 777.78 L182.92 776.98 L181.69 776.26 L180.47 775.59 L179.27 774.98 L178.09 774.43 L176.93 773.92 L175.81 773.45 L174.73 773.01 L173.7 772.6 L172.71 772.21 L171.77 771.84 L170.83 771.47 L169.92 771.12 L169.02 770.78 L168.14 770.47 L167.25 770.18 L166.37 769.91 L165.47 769.67 L164.55 769.44 L163.61 769.23 L162.65 769.05 L161.66 768.89 L160.61 768.74 L159.52 768.61 L158.39 768.51 L157.24 768.42 L156.07 768.36 L154.88 768.31 L153.69 768.32 L152.49 768.41 L151.29 768.52 L150.11 768.64 L148.94 768.78 L147.79 768.94 L146.66 769.11 L145.57 769.3 L144.49 769.5 L143.42 769.72 L142.38 769.96 L141.34 770.21 L140.32 770.48 L139.3 770.77 L138.28 771.07 L137.27 771.39 L136.25 771.73 L135.22 772.08 L134.18 772.44 L133.14 772.82 L132.07 773.22 L130.99 773.63 L129.89 774.05 L128.79 774.5 L127.68 774.96 L126.57 775.45 L125.46 775.95 L124.36 776.48 L123.27 777.03 L122.2 777.6 L121.14 778.2 L120.1 778.83 L119.06 779.49 L118.05 780.17 L117.04 780.87 L116.04 781.59 L115.06 782.33 L114.1 783.08 L113.15 783.83 L112.22 784.59 L111.3 785.34 L110.34 786.02 L109.41 786.69 L108.49 787.37 L107.59 788.06 L106.7 788.76 L105.83 789.47 L104.97 790.18 L104.13 790.9 L103.3 791.62 L102.48 792.35 L101.67 793.08 L100.88 793.81 L100.09 794.54 L99.31 795.28 L98.51 796.05 L97.69 796.87 L96.85 797.73 L96.01 798.61 L95.19 799.49 L94.39 800.35 L93.62 801.19 L92.91 801.98 L92.25 802.7 L91.67 803.34 L91.17 803.89 L90.77 804.32 Z" fill="#000"/>
<path d="M122.13 780.26 L123.21 779.87 L124.31 779.5 L125.42 779.16 L126.54 778.84 L127.66 778.54 L128.78 778.26 L129.9 778 L131.02 777.76 L132.13 777.53 L133.23 777.31 L134.31 777.11 L135.38 776.91 L136.42 776.73 L137.44 776.57 L138.44 776.42 L139.43 776.28 L140.4 776.16 L141.37 776.06 L142.33 775.97 L143.29 775.9 L144.25 775.85 L145.22 775.81 L146.2 775.8 L147.2 775.79 L148.22 775.81 L149.27 775.85 L150.34 775.9 L151.42 775.97 L152.5 776.05 L153.59 776.15 L154.66 776.21 L155.71 776.25 L156.74 776.3 L157.74 776.38 L158.69 776.47 L159.6 776.57 L160.46 776.7 L161.27 776.83 L162.03 776.97 L162.76 777.13 L163.47 777.31 L164.17 777.5 L164.87 777.72 L165.59 777.95 L166.34 778.22 L167.13 778.51 L167.96 778.83 L168.86 779.18 L169.82 779.56 L170.8 779.95 L171.8 780.34 L172.8 780.75 L173.8 781.17 L174.81 781.61 L175.81 782.08 L176.8 782.59 L177.78 783.12 L178.75 783.7 L179.71 784.31 L180.65 784.99 L181.6 785.72 L182.57 786.53 L183.54 787.39 L184.53 788.31 L185.53 789.28 L186.53 790.29 L187.54 791.34 L188.56 792.42 L189.58 793.54 L190.6 794.69 L191.63 795.85 L192.65 797.02 L193.66 798.21 L194.66 799.44 L195.68 800.73 L196.7 802.06 L197.73 803.43 L198.76 804.82 L199.8 806.22 L200.84 807.63 L201.89 809.05 L202.95 810.45 L204.01 811.83 L205.08 813.18 L206.14 814.5 L207.19 815.78 L208.25 817.05 L209.3 818.3 L210.35 819.53 L211.39 820.76 L212.43 821.98 L213.46 823.2 L214.5 824.43 L215.53 825.67 L216.55 826.92 L217.58 828.18 L218.59 829.48 L219.62 830.81 L220.64 832.17 L221.68 833.56 L222.72 834.96 L223.76 836.38 L224.81 837.79 L225.87 839.19 L226.93 840.57 L228 841.93 L229.07 843.26 L230.16 844.53 L231.23 845.75 L232.3 846.93 L233.37 848.07 L234.44 849.19 L235.51 850.28 L236.57 851.35 L237.64 852.39 L238.7 853.4 L239.76 854.4 L240.82 855.38 L241.87 856.35 L242.93 857.31 L243.99 858.25 L245.04 859.16 L246.08 860.03 L247.12 860.89 L248.15 861.72 L249.18 862.53 L250.22 863.34 L251.26 864.14 L252.32 864.95 L253.4 865.77 L254.49 866.61 L255.62 867.47 L256.8 868.36 L258.02 869.28 L259.27 870.23 L260.55 871.19 L261.85 872.15 L263.16 873.12 L264.47 874.08 L265.77 875.03 L267.06 875.96 L268.32 876.86 L269.55 877.72 L270.73 878.55 L271.87 879.33 L272.97 880.09 L274.05 880.84 L275.11 881.56 L276.16 882.27 L277.21 882.97 L278.25 883.64 L279.29 884.3 L280.34 884.94 L281.4 885.56 L282.48 886.17 L283.57 886.75 L284.65 887.3 L285.74 887.84 L286.83 888.35 L287.92 888.84 L289 889.31 L290.1 889.76 L291.19 890.19 L292.28 890.59 L293.38 890.97 L294.48 891.33 L295.58 891.67 L296.68 891.99 L297.78 892.28 L298.89 892.55 L299.99 892.79 L301.1 893.01 L302.2 893.2 L303.3 893.37 L304.4 893.52 L305.49 893.66 L306.59 893.77 L307.68 893.86 L308.76 893.94 L309.85 894 L310.95 894.04 L312.05 894.06 L313.14 894.07 L314.24 894.05 L315.33 894.02 L316.43 893.96 L317.52 893.89 L318.61 893.8 L319.71 893.69 L320.8 893.57 L321.89 893.42 L322.98 893.26 L324.08 893.08 L325.18 892.87 L326.28 892.65 L327.37 892.41 L328.45 892.14 L329.54 891.87 L330.62 891.58 L331.69 891.27 L332.77 890.95 L333.84 890.63 L334.9 890.29 L335.97 889.95 L337.03 889.59 L338.09 889.23 L339.16 888.86 L340.23 888.47 L341.31 888.07 L342.38 887.65 L343.46 887.22 L344.54 886.77 L345.63 886.3 L346.71 885.82 L347.8 885.31 L348.88 884.78 L349.94 884.24 L351 883.7 L352.07 883.15 L353.14 882.57 L354.22 881.98 L355.31 881.36 L356.4 880.71 L357.49 880.04 L358.59 879.32 L359.69 878.57 L360.8 877.78 L361.9 876.95 L362.99 876.08 L364.06 875.18 L365.1 874.27 L366.14 873.32 L367.16 872.36 L368.19 871.36 L369.22 870.34 L370.26 869.3 L371.32 868.22 L372.41 867.11 L373.54 865.96 L374.71 864.77 L375.96 863.5 L377.25 862.14 L378.57 860.72 L379.92 859.26 L381.29 857.77 L382.67 856.27 L384.06 854.76 L385.45 853.27 L386.84 851.81 L388.21 850.39 L389.56 849.03 L390.89 847.74 L392.22 846.49 L393.55 845.26 L394.89 844.05 L396.22 842.86 L397.55 841.7 L398.88 840.56 L400.21 839.44 L401.54 838.34 L402.87 837.27 L404.2 836.22 L405.53 835.19 L406.86 834.18 L408.2 833.18 L409.54 832.19 L410.87 831.23 L412.2 830.29 L413.52 829.37 L414.84 828.48 L416.16 827.61 L417.47 826.79 L418.77 826 L420.07 825.25 L421.36 824.54 L422.64 823.87 L423.92 823.25 L425.2 822.67 L426.48 822.13 L427.77 821.62 L429.07 821.14 L430.36 820.69 L431.67 820.27 L432.98 819.86 L434.29 819.48 L435.61 819.11 L436.94 818.75 L438.27 818.4 L439.58 818.08 L440.87 817.78 L442.15 817.5 L443.43 817.24 L444.71 817 L446 816.78 L447.29 816.58 L448.6 816.4 L449.93 816.23 L451.27 816.07 L452.64 815.92 L454.02 815.79 L455.47 815.67 L457.05 815.58 L458.72 815.51 L460.45 815.45 L462.2 815.41 L463.93 815.38 L465.62 815.36 L467.22 815.35 L468.7 815.34 L470.02 815.33 L471.16 815.32 L472.06 815.3 L471.94 809.1 L471.07 809.12 L469.96 809.13 L468.65 809.14 L467.17 809.15 L465.56 809.16 L463.85 809.18 L462.07 809.21 L460.28 809.25 L458.48 809.31 L456.73 809.39 L455.05 809.49 L453.48 809.61 L452.01 809.75 L450.58 809.91 L449.17 810.07 L447.77 810.25 L446.38 810.45 L445 810.67 L443.63 810.9 L442.26 811.15 L440.88 811.43 L439.5 811.73 L438.12 812.05 L436.73 812.4 L435.35 812.76 L433.97 813.13 L432.58 813.52 L431.19 813.93 L429.79 814.36 L428.39 814.82 L426.98 815.31 L425.56 815.83 L424.14 816.39 L422.72 816.99 L421.29 817.64 L419.86 818.33 L418.44 819.07 L417.02 819.85 L415.61 820.66 L414.2 821.52 L412.8 822.4 L411.41 823.31 L410.02 824.25 L408.64 825.21 L407.26 826.19 L405.88 827.19 L404.51 828.2 L403.14 829.22 L401.76 830.27 L400.38 831.34 L399 832.43 L397.62 833.54 L396.25 834.67 L394.87 835.83 L393.49 837.01 L392.12 838.21 L390.74 839.44 L389.36 840.69 L387.99 841.96 L386.61 843.26 L385.2 844.62 L383.79 846.05 L382.36 847.52 L380.94 849.02 L379.52 850.55 L378.11 852.07 L376.72 853.58 L375.36 855.06 L374.03 856.5 L372.74 857.89 L371.49 859.2 L370.29 860.43 L369.12 861.61 L367.99 862.76 L366.9 863.87 L365.85 864.93 L364.84 865.96 L363.85 866.94 L362.88 867.88 L361.92 868.78 L360.97 869.65 L360.02 870.48 L359.07 871.28 L358.1 872.05 L357.12 872.79 L356.14 873.49 L355.16 874.16 L354.17 874.8 L353.18 875.41 L352.19 876 L351.19 876.57 L350.19 877.12 L349.18 877.66 L348.16 878.19 L347.14 878.71 L346.12 879.22 L345.12 879.71 L344.12 880.18 L343.12 880.63 L342.12 881.06 L341.12 881.48 L340.12 881.88 L339.11 882.27 L338.1 882.65 L337.09 883.01 L336.07 883.37 L335.05 883.72 L334.03 884.05 L333.01 884.39 L332 884.71 L330.98 885.02 L329.97 885.31 L328.97 885.6 L327.96 885.87 L326.96 886.13 L325.97 886.37 L324.97 886.59 L323.99 886.79 L323 886.97 L322.02 887.14 L321.03 887.28 L320.04 887.41 L319.04 887.53 L318.05 887.63 L317.06 887.71 L316.07 887.77 L315.08 887.82 L314.1 887.85 L313.11 887.87 L312.12 887.86 L311.13 887.84 L310.15 887.8 L309.15 887.75 L308.16 887.68 L307.16 887.59 L306.17 887.49 L305.19 887.37 L304.2 887.24 L303.22 887.09 L302.24 886.91 L301.26 886.72 L300.28 886.5 L299.3 886.27 L298.32 886.01 L297.34 885.73 L296.36 885.43 L295.37 885.1 L294.38 884.76 L293.39 884.39 L292.4 884 L291.41 883.6 L290.42 883.17 L289.42 882.72 L288.43 882.25 L287.43 881.76 L286.43 881.25 L285.46 880.73 L284.49 880.19 L283.53 879.62 L282.56 879.03 L281.59 878.42 L280.61 877.78 L279.61 877.12 L278.59 876.44 L277.56 875.73 L276.49 874.99 L275.39 874.23 L274.27 873.45 L273.11 872.65 L271.91 871.8 L270.67 870.92 L269.41 870.01 L268.13 869.08 L266.84 868.13 L265.55 867.17 L264.26 866.22 L262.99 865.27 L261.75 864.34 L260.54 863.42 L259.38 862.53 L258.25 861.67 L257.15 860.84 L256.08 860.02 L255.03 859.23 L254.01 858.44 L253.01 857.66 L252.02 856.87 L251.03 856.08 L250.05 855.27 L249.07 854.44 L248.08 853.59 L247.07 852.69 L246.04 851.76 L245.02 850.82 L243.99 849.87 L242.97 848.91 L241.95 847.93 L240.93 846.94 L239.91 845.92 L238.89 844.88 L237.88 843.82 L236.87 842.73 L235.85 841.61 L234.84 840.47 L233.84 839.29 L232.84 838.06 L231.82 836.77 L230.8 835.44 L229.77 834.07 L228.74 832.68 L227.7 831.28 L226.66 829.87 L225.61 828.45 L224.55 827.05 L223.49 825.67 L222.42 824.32 L221.36 823 L220.31 821.72 L219.25 820.45 L218.2 819.2 L217.15 817.97 L216.11 816.74 L215.07 815.52 L214.04 814.3 L213 813.07 L211.97 811.83 L210.95 810.58 L209.92 809.32 L208.91 808.02 L207.88 806.69 L206.86 805.33 L205.82 803.94 L204.78 802.54 L203.74 801.12 L202.69 799.71 L201.63 798.31 L200.57 796.93 L199.5 795.57 L198.43 794.24 L197.35 792.98 L196.29 791.76 L195.23 790.57 L194.17 789.38 L193.11 788.22 L192.04 787.08 L190.97 785.96 L189.89 784.87 L188.8 783.81 L187.71 782.8 L186.6 781.82 L185.48 780.89 L184.35 780.01 L183.19 779.19 L182.02 778.43 L180.85 777.73 L179.68 777.1 L178.52 776.51 L177.38 775.97 L176.26 775.48 L175.17 775.02 L174.1 774.59 L173.07 774.18 L172.09 773.79 L171.14 773.42 L170.22 773.05 L169.32 772.71 L168.45 772.38 L167.59 772.08 L166.74 771.8 L165.89 771.55 L165.04 771.31 L164.17 771.1 L163.27 770.9 L162.35 770.72 L161.4 770.57 L160.4 770.43 L159.34 770.3 L158.25 770.2 L157.13 770.12 L155.99 770.06 L154.83 770.01 L153.66 770.02 L152.49 770.11 L151.32 770.22 L150.16 770.34 L149.02 770.48 L147.89 770.64 L146.8 770.81 L145.73 770.99 L144.68 771.19 L143.65 771.41 L142.64 771.64 L141.63 771.89 L140.63 772.15 L139.64 772.43 L138.65 772.73 L137.65 773.05 L136.65 773.38 L135.64 773.72 L134.62 774.09 L133.59 774.46 L132.53 774.85 L131.47 775.26 L130.39 775.68 L129.3 776.12 L128.22 776.58 L127.13 777.05 L126.06 777.55 L124.99 778.06 L123.93 778.6 L122.89 779.16 L121.87 779.74 Z" fill="#bedfef"/>
<path d="M133.98 775.89 L135.04 775.65 L136.08 775.43 L137.11 775.22 L138.11 775.02 L139.11 774.84 L140.1 774.68 L141.08 774.53 L142.06 774.4 L143.04 774.29 L144.03 774.19 L145.02 774.11 L146.03 774.05 L147.06 774 L148.11 773.98 L149.18 773.97 L150.28 773.97 L151.39 773.99 L152.5 774.03 L153.61 774.09 L154.72 774.16 L155.8 774.2 L156.87 774.26 L157.91 774.33 L158.91 774.43 L159.87 774.54 L160.77 774.67 L161.63 774.81 L162.44 774.97 L163.22 775.14 L163.99 775.33 L164.74 775.53 L165.49 775.76 L166.25 776.01 L167.04 776.29 L167.85 776.59 L168.71 776.92 L169.61 777.28 L170.57 777.65 L171.55 778.04 L172.56 778.44 L173.58 778.85 L174.61 779.29 L175.66 779.75 L176.7 780.24 L177.75 780.77 L178.8 781.34 L179.83 781.95 L180.86 782.62 L181.87 783.34 L182.88 784.13 L183.9 784.97 L184.92 785.87 L185.94 786.82 L186.97 787.82 L188 788.86 L189.03 789.93 L190.06 791.03 L191.1 792.17 L192.13 793.32 L193.17 794.5 L194.2 795.69 L195.23 796.9 L196.26 798.16 L197.3 799.47 L198.33 800.82 L199.37 802.2 L200.41 803.59 L201.45 805 L202.49 806.41 L203.53 807.82 L204.58 809.21 L205.63 810.57 L206.68 811.9 L207.73 813.2 L208.77 814.48 L209.82 815.73 L210.86 816.97 L211.91 818.2 L212.95 819.43 L213.99 820.65 L215.03 821.88 L216.07 823.12 L217.11 824.36 L218.14 825.62 L219.18 826.9 L220.21 828.22 L221.25 829.56 L222.28 830.94 L223.32 832.34 L224.36 833.75 L225.41 835.16 L226.45 836.56 L227.5 837.95 L228.55 839.32 L229.6 840.65 L230.65 841.94 L231.71 843.19 L232.76 844.38 L233.81 845.54 L234.86 846.67 L235.91 847.77 L236.96 848.84 L238.01 849.89 L239.06 850.91 L240.11 851.92 L241.16 852.91 L242.21 853.88 L243.25 854.83 L244.3 855.78 L245.34 856.71 L246.37 857.6 L247.39 858.46 L248.41 859.3 L249.43 860.11 L250.45 860.92 L251.47 861.72 L252.51 862.52 L253.56 863.32 L254.64 864.14 L255.73 864.98 L256.86 865.84 L258.04 866.73 L259.25 867.65 L260.5 868.59 L261.78 869.55 L263.07 870.51 L264.38 871.47 L265.68 872.43 L266.98 873.37 L268.26 874.29 L269.51 875.18 L270.73 876.04 L271.9 876.86 L273.03 877.64 L274.13 878.41 L275.21 879.15 L276.26 879.87 L277.3 880.57 L278.33 881.25 L279.35 881.92 L280.37 882.56 L281.39 883.18 L282.42 883.79 L283.46 884.37 L284.51 884.93 L285.57 885.47 L286.63 885.99 L287.69 886.49 L288.74 886.96 L289.8 887.42 L290.86 887.86 L291.92 888.27 L292.98 888.66 L294.04 889.03 L295.1 889.38 L296.16 889.71 L297.22 890.01 L298.28 890.29 L299.35 890.55 L300.41 890.78 L301.47 890.99 L302.54 891.18 L303.6 891.35 L304.66 891.49 L305.72 891.62 L306.78 891.73 L307.84 891.82 L308.89 891.89 L309.95 891.95 L311.01 891.99 L312.07 892.01 L313.13 892.02 L314.19 892 L315.25 891.97 L316.31 891.92 L317.37 891.85 L318.43 891.76 L319.49 891.66 L320.55 891.53 L321.6 891.39 L322.66 891.24 L323.72 891.06 L324.79 890.86 L325.85 890.64 L326.9 890.41 L327.96 890.15 L329.02 889.88 L330.07 889.6 L331.12 889.3 L332.18 888.99 L333.23 888.67 L334.28 888.34 L335.33 888 L336.38 887.65 L337.43 887.29 L338.48 886.92 L339.53 886.55 L340.58 886.15 L341.63 885.75 L342.69 885.32 L343.74 884.89 L344.8 884.43 L345.86 883.95 L346.91 883.46 L347.97 882.94 L349.02 882.41 L350.06 881.88 L351.11 881.33 L352.17 880.77 L353.22 880.19 L354.28 879.59 L355.34 878.96 L356.4 878.31 L357.46 877.62 L358.52 876.89 L359.58 876.13 L360.64 875.33 L361.69 874.49 L362.72 873.63 L363.74 872.74 L364.74 871.82 L365.74 870.88 L366.75 869.9 L367.77 868.89 L368.8 867.85 L369.86 866.78 L370.95 865.67 L372.08 864.52 L373.25 863.34 L374.48 862.07 L375.76 860.73 L377.07 859.33 L378.41 857.87 L379.78 856.39 L381.16 854.88 L382.56 853.37 L383.96 851.87 L385.36 850.39 L386.75 848.95 L388.12 847.57 L389.48 846.26 L390.82 844.99 L392.17 843.75 L393.51 842.52 L394.86 841.32 L396.21 840.15 L397.55 838.99 L398.9 837.86 L400.25 836.75 L401.59 835.67 L402.94 834.6 L404.28 833.56 L405.63 832.54 L406.98 831.53 L408.33 830.54 L409.67 829.56 L411.02 828.61 L412.36 827.67 L413.71 826.77 L415.05 825.89 L416.39 825.04 L417.72 824.23 L419.06 823.46 L420.39 822.73 L421.72 822.04 L423.05 821.39 L424.38 820.79 L425.71 820.23 L427.04 819.71 L428.37 819.21 L429.71 818.75 L431.05 818.31 L432.39 817.9 L433.73 817.51 L435.07 817.13 L436.42 816.77 L437.76 816.42 L439.09 816.08 L440.42 815.78 L441.73 815.49 L443.04 815.23 L444.35 814.98 L445.67 814.76 L446.99 814.56 L448.33 814.37 L449.68 814.19 L451.04 814.03 L452.43 813.88 L453.84 813.75 L455.33 813.63 L456.94 813.53 L458.64 813.46 L460.39 813.4 L462.16 813.36 L463.91 813.33 L465.6 813.31 L467.2 813.3 L468.68 813.29 L470 813.28 L471.13 813.27 L472.02 813.25 L471.98 811.15 L471.1 811.17 L469.98 811.18 L468.67 811.19 L467.19 811.2 L465.58 811.21 L463.88 811.23 L462.12 811.26 L460.33 811.3 L458.56 811.36 L456.83 811.43 L455.19 811.53 L453.66 811.65 L452.22 811.79 L450.81 811.94 L449.42 812.11 L448.04 812.29 L446.68 812.48 L445.33 812.69 L443.99 812.92 L442.64 813.17 L441.3 813.43 L439.95 813.73 L438.6 814.04 L437.24 814.38 L435.88 814.74 L434.51 815.11 L433.15 815.49 L431.78 815.89 L430.41 816.31 L429.04 816.76 L427.67 817.24 L426.29 817.75 L424.92 818.29 L423.54 818.87 L422.16 819.49 L420.78 820.16 L419.4 820.88 L418.03 821.63 L416.65 822.43 L415.28 823.26 L413.91 824.12 L412.54 825.02 L411.18 825.94 L409.81 826.89 L408.45 827.86 L407.09 828.84 L405.73 829.85 L404.37 830.86 L403.01 831.89 L401.64 832.95 L400.28 834.03 L398.92 835.13 L397.56 836.25 L396.2 837.39 L394.83 838.56 L393.47 839.75 L392.11 840.96 L390.75 842.2 L389.39 843.46 L388.02 844.74 L386.65 846.08 L385.25 847.48 L383.84 848.94 L382.43 850.43 L381.02 851.94 L379.62 853.46 L378.23 854.97 L376.87 856.45 L375.53 857.9 L374.23 859.29 L372.97 860.62 L371.75 861.86 L370.58 863.05 L369.45 864.2 L368.36 865.31 L367.31 866.38 L366.28 867.41 L365.28 868.4 L364.29 869.36 L363.31 870.28 L362.34 871.17 L361.36 872.03 L360.36 872.87 L359.36 873.67 L358.34 874.44 L357.32 875.17 L356.29 875.87 L355.27 876.53 L354.25 877.17 L353.22 877.77 L352.2 878.36 L351.17 878.92 L350.14 879.47 L349.1 880.01 L348.07 880.54 L347.03 881.06 L346 881.56 L344.98 882.04 L343.95 882.51 L342.92 882.95 L341.89 883.38 L340.87 883.79 L339.84 884.19 L338.81 884.57 L337.77 884.95 L336.74 885.31 L335.71 885.66 L334.67 886 L333.64 886.34 L332.61 886.66 L331.57 886.98 L330.54 887.28 L329.51 887.58 L328.48 887.85 L327.46 888.12 L326.43 888.36 L325.4 888.59 L324.38 888.8 L323.36 888.99 L322.34 889.16 L321.31 889.31 L320.29 889.45 L319.26 889.57 L318.24 889.67 L317.21 889.75 L316.19 889.82 L315.17 889.87 L314.14 889.9 L313.12 889.92 L312.1 889.91 L311.07 889.89 L310.05 889.85 L309.02 889.79 L308 889.72 L306.97 889.64 L305.95 889.53 L304.93 889.41 L303.9 889.27 L302.88 889.11 L301.86 888.93 L300.84 888.73 L299.82 888.5 L298.8 888.26 L297.78 887.99 L296.76 887.69 L295.74 887.38 L294.71 887.04 L293.69 886.69 L292.67 886.31 L291.64 885.91 L290.62 885.49 L289.59 885.04 L288.56 884.58 L287.54 884.1 L286.51 883.59 L285.49 883.07 L284.47 882.53 L283.47 881.96 L282.47 881.38 L281.48 880.77 L280.48 880.15 L279.48 879.5 L278.47 878.83 L277.44 878.13 L276.4 877.42 L275.32 876.68 L274.23 875.92 L273.1 875.14 L271.93 874.33 L270.72 873.47 L269.48 872.58 L268.21 871.67 L266.92 870.73 L265.62 869.78 L264.32 868.82 L263.04 867.86 L261.76 866.91 L260.52 865.97 L259.31 865.05 L258.14 864.16 L257.01 863.3 L255.91 862.47 L254.84 861.65 L253.79 860.85 L252.76 860.06 L251.74 859.27 L250.74 858.47 L249.74 857.67 L248.74 856.85 L247.74 856 L246.73 855.13 L245.7 854.22 L244.66 853.28 L243.63 852.33 L242.59 851.37 L241.56 850.4 L240.52 849.4 L239.49 848.39 L238.45 847.36 L237.42 846.31 L236.39 845.23 L235.36 844.12 L234.32 842.98 L233.29 841.81 L232.27 840.6 L231.24 839.34 L230.2 838.03 L229.17 836.68 L228.13 835.3 L227.09 833.91 L226.05 832.5 L225.01 831.09 L223.97 829.68 L222.92 828.29 L221.87 826.93 L220.82 825.6 L219.77 824.3 L218.73 823.02 L217.68 821.77 L216.64 820.53 L215.59 819.3 L214.55 818.07 L213.51 816.85 L212.47 815.62 L211.43 814.38 L210.39 813.14 L209.36 811.88 L208.32 810.6 L207.29 809.28 L206.25 807.94 L205.22 806.56 L204.18 805.16 L203.14 803.75 L202.09 802.34 L201.05 800.94 L200 799.55 L198.95 798.18 L197.9 796.85 L196.85 795.56 L195.8 794.31 L194.75 793.11 L193.7 791.93 L192.65 790.76 L191.6 789.61 L190.55 788.48 L189.5 787.39 L188.45 786.33 L187.39 785.3 L186.33 784.32 L185.27 783.38 L184.2 782.49 L183.13 781.66 L182.04 780.88 L180.94 780.17 L179.84 779.51 L178.73 778.91 L177.63 778.35 L176.53 777.84 L175.45 777.36 L174.38 776.91 L173.34 776.49 L172.32 776.09 L171.34 775.7 L170.39 775.32 L169.47 774.96 L168.59 774.62 L167.75 774.31 L166.93 774.02 L166.12 773.76 L165.32 773.52 L164.52 773.29 L163.7 773.09 L162.86 772.91 L162 772.74 L161.09 772.59 L160.13 772.46 L159.13 772.34 L158.08 772.24 L157 772.16 L155.9 772.1 L154.78 772.06 L153.64 772.08 L152.5 772.13 L151.35 772.19 L150.22 772.27 L149.11 772.36 L148.01 772.47 L146.94 772.6 L145.9 772.74 L144.88 772.89 L143.88 773.06 L142.88 773.25 L141.9 773.46 L140.92 773.68 L139.94 773.92 L138.96 774.17 L137.98 774.44 L136.99 774.73 L135.98 775.03 L134.96 775.35 L133.92 775.68 Z" fill="#000"/>
<g stroke="#000" stroke-width="1.6"><line x1="289.3" y1="783.7" x2="272.2" y2="864.4"/><line x1="301.5" y1="784.3" x2="487" y2="800"/></g>
<ellipse cx="612.3" cy="812.2" rx="16.9" ry="14.6" fill="#05a0de" stroke="#000" stroke-width="2"/>
<path d="M481 795 L520 795 C528 789 538 786 549 786 C566 786 578 792 584 798.3 L602 798.3 A13.8 13.8 0 0 1 602 825.9 L584 825.9 C578 832 566 838 549 838 C538 838 528 835 520 829 L481 829 A17 17 0 0 1 481 795 Z" fill="#bedfef" stroke="#000" stroke-width="2"/>
<ellipse cx="550.3" cy="813.8" rx="26.8" ry="18.8" fill="#822b80" stroke="#000" stroke-width="1.8"/>
<text transform="translate(535.3 820.7) scale(0.8 1)" font-size="23.4" font-weight="normal" fill="#fff" stroke="#fff" stroke-width="0.6" textLength="40.25" lengthAdjust="spacing">23n</text>
<ellipse cx="477" cy="802.5" rx="4.9" ry="3.5" fill="#ec4c8e" stroke="#000" stroke-width="1.9"/>
<ellipse cx="490" cy="802.5" rx="4.9" ry="3.5" fill="#ec4c8e" stroke="#000" stroke-width="1.9"/>
<ellipse cx="503.5" cy="802.5" rx="4.9" ry="3.5" fill="#ec4c8e" stroke="#000" stroke-width="1.9"/>
<ellipse cx="474" cy="821" rx="4.9" ry="3.5" fill="#ec4c8e" stroke="#000" stroke-width="1.9"/>
<ellipse cx="486.5" cy="821" rx="4.9" ry="3.5" fill="#ec4c8e" stroke="#000" stroke-width="1.9"/>
<ellipse cx="500" cy="821" rx="4.9" ry="3.5" fill="#ec4c8e" stroke="#000" stroke-width="1.9"/>
<line x1="466" y1="812" x2="500" y2="812" stroke="#000" stroke-width="4.4" stroke-linecap="round"/>
<line x1="515" y1="808.9" x2="515" y2="806" stroke="#e4201a" stroke-width="3.3"/>
<line x1="518.14" y1="811.18" x2="520.9" y2="810.28" stroke="#e4201a" stroke-width="3.3"/>
<line x1="516.94" y1="814.87" x2="518.64" y2="817.22" stroke="#e4201a" stroke-width="3.3"/>
<line x1="513.06" y1="814.87" x2="511.36" y2="817.22" stroke="#e4201a" stroke-width="3.3"/>
<line x1="511.86" y1="811.18" x2="509.1" y2="810.28" stroke="#e4201a" stroke-width="3.3"/>
<g stroke="#000" stroke-width="1.6">
<line x1="561.6" y1="778" x2="561.6" y2="792.3"/>
<line x1="515.3" y1="812" x2="515.3" y2="865"/>
<line x1="488.6" y1="812" x2="488.6" y2="905.5"/>
<line x1="474" y1="821.5" x2="474" y2="955"/>
<line x1="620.6" y1="819.3" x2="620.6" y2="998"/>
</g>
<circle cx="487" cy="800" r="2.2" fill="#000"/>
<circle cx="561.6" cy="792.3" r="2.2" fill="#000"/>
<circle cx="515.3" cy="812" r="2.2" fill="#000"/>
<circle cx="488.6" cy="812" r="2.2" fill="#000"/>
<circle cx="474" cy="821.5" r="2.2" fill="#000"/>
<circle cx="620.7" cy="819.3" r="2.2" fill="#000"/>
<rect x="4.5" y="1041.7" width="787" height="1.8" fill="#0a3f96"/>
<text transform="translate(5.3 1065.6) scale(0.97 1)" font-size="14.3" font-weight="bold" fill="#000" stroke="#000" stroke-width="0.15" textLength="390.72" lengthAdjust="spacing">MEDI-LEARN Skript Anatomie 1 – Abbildung 4a – Seite 11</text>
<text transform="translate(5.3 1090.2) scale(0.97 1)" font-size="14.3" font-weight="bold" fill="#000" stroke="#000" stroke-width="0.15" textLength="148.45" lengthAdjust="spacing">Eizelle und Spermium</text>
<text transform="translate(645 1066.3) scale(0.85 1)" font-size="12.5" font-weight="normal" fill="#000" stroke="#000" stroke-width="0.3" textLength="172.12" lengthAdjust="spacing">www.medi-learn.de/6-ana1-4a</text>
</svg>
</body></html>
